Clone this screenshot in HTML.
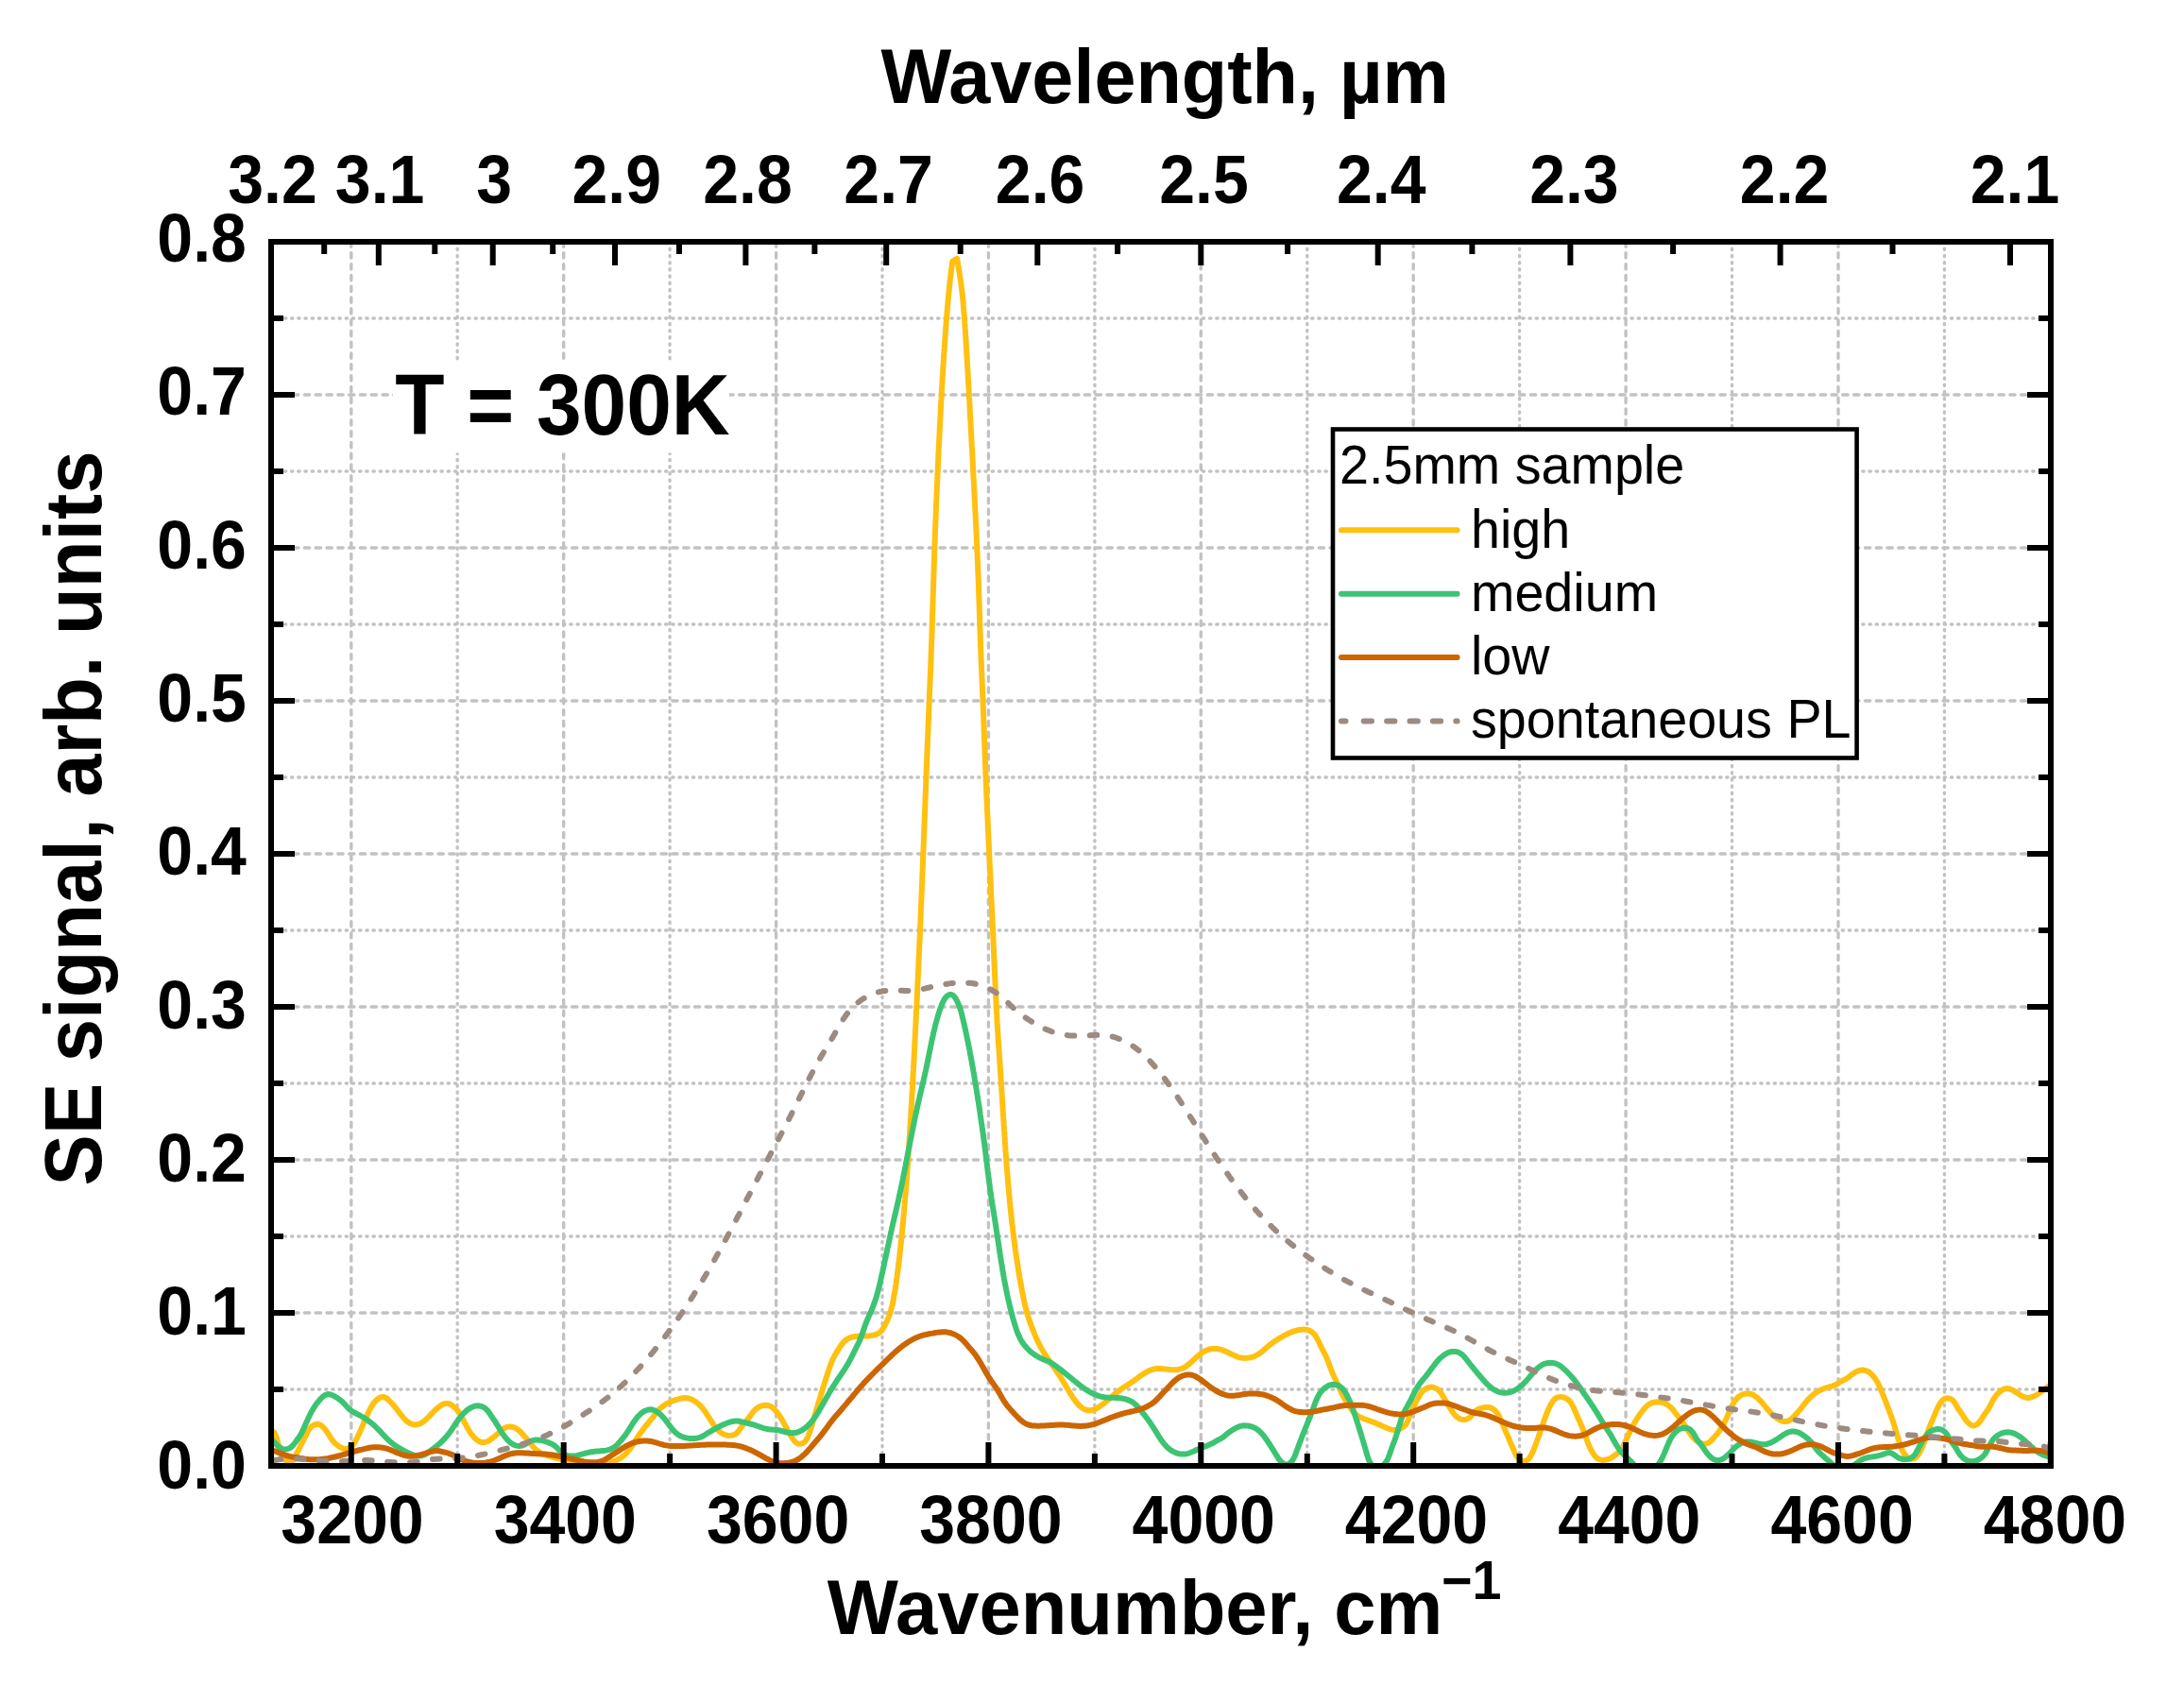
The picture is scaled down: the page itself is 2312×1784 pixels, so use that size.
<!DOCTYPE html><html><head><meta charset="utf-8"><title>SE signal</title>
<style>html,body{margin:0;padding:0;background:#fff}svg{display:block}text{font-family:"Liberation Sans",Arial,sans-serif;fill:#000}.b{font-weight:bold}</style></head><body>
<svg width="2312" height="1784" viewBox="0 0 2312 1784">
<rect width="2312" height="1784" fill="#fff"/>
<g stroke="#c2c2c2" stroke-width="3.4" stroke-linecap="round" fill="none">
<line x1="371.8" y1="256" x2="371.8" y2="1552" stroke-dasharray="5.3 6.5" stroke-dashoffset="0"/>
<line x1="596.7" y1="256" x2="596.7" y2="1552" stroke-dasharray="5.3 6.5" stroke-dashoffset="0"/>
<line x1="821.6" y1="256" x2="821.6" y2="1552" stroke-dasharray="5.3 6.5" stroke-dashoffset="0"/>
<line x1="1046.4" y1="256" x2="1046.4" y2="1552" stroke-dasharray="5.3 6.5" stroke-dashoffset="0"/>
<line x1="1271.3" y1="256" x2="1271.3" y2="1552" stroke-dasharray="5.3 6.5" stroke-dashoffset="0"/>
<line x1="1496.2" y1="256" x2="1496.2" y2="1552" stroke-dasharray="5.3 6.5" stroke-dashoffset="0"/>
<line x1="1721.1" y1="256" x2="1721.1" y2="1552" stroke-dasharray="5.3 6.5" stroke-dashoffset="0"/>
<line x1="1946.0" y1="256" x2="1946.0" y2="1552" stroke-dasharray="5.3 6.5" stroke-dashoffset="0"/>
<line x1="484.2" y1="256" x2="484.2" y2="1552" stroke-dasharray="1.3 5.9"/>
<line x1="709.1" y1="256" x2="709.1" y2="1552" stroke-dasharray="1.3 5.9"/>
<line x1="934.0" y1="256" x2="934.0" y2="1552" stroke-dasharray="1.3 5.9"/>
<line x1="1158.9" y1="256" x2="1158.9" y2="1552" stroke-dasharray="1.3 5.9"/>
<line x1="1383.8" y1="256" x2="1383.8" y2="1552" stroke-dasharray="1.3 5.9"/>
<line x1="1608.6" y1="256" x2="1608.6" y2="1552" stroke-dasharray="1.3 5.9"/>
<line x1="1833.5" y1="256" x2="1833.5" y2="1552" stroke-dasharray="1.3 5.9"/>
<line x1="2058.4" y1="256" x2="2058.4" y2="1552" stroke-dasharray="1.3 5.9"/>
<line x1="287" y1="1390.0" x2="2171" y2="1390.0" stroke-dasharray="5.3 6.5"/>
<line x1="287" y1="1228.0" x2="2171" y2="1228.0" stroke-dasharray="5.3 6.5"/>
<line x1="287" y1="1066.0" x2="2171" y2="1066.0" stroke-dasharray="5.3 6.5"/>
<line x1="287" y1="904.0" x2="2171" y2="904.0" stroke-dasharray="5.3 6.5"/>
<line x1="287" y1="742.0" x2="2171" y2="742.0" stroke-dasharray="5.3 6.5"/>
<line x1="287" y1="580.0" x2="2171" y2="580.0" stroke-dasharray="5.3 6.5"/>
<line x1="287" y1="418.0" x2="2171" y2="418.0" stroke-dasharray="5.3 6.5"/>
<line x1="287" y1="1471.0" x2="2171" y2="1471.0" stroke-dasharray="1.3 5.9"/>
<line x1="287" y1="1309.0" x2="2171" y2="1309.0" stroke-dasharray="1.3 5.9"/>
<line x1="287" y1="1147.0" x2="2171" y2="1147.0" stroke-dasharray="1.3 5.9"/>
<line x1="287" y1="985.0" x2="2171" y2="985.0" stroke-dasharray="1.3 5.9"/>
<line x1="287" y1="823.0" x2="2171" y2="823.0" stroke-dasharray="1.3 5.9"/>
<line x1="287" y1="661.0" x2="2171" y2="661.0" stroke-dasharray="1.3 5.9"/>
<line x1="287" y1="499.0" x2="2171" y2="499.0" stroke-dasharray="1.3 5.9"/>
<line x1="287" y1="337.0" x2="2171" y2="337.0" stroke-dasharray="1.3 5.9"/>
</g>
<defs><clipPath id="pc"><rect x="287" y="256" width="1884" height="1296"/></clipPath></defs>
<g clip-path="url(#pc)" fill="none" stroke-width="6" stroke-linejoin="round" stroke-linecap="round">
<path d="M290.0 1516.3 L291.0 1518.1 L291.9 1520.0 L292.6 1521.8 L293.2 1523.7 L293.8 1525.6 L294.2 1527.5 L294.7 1529.5 L295.1 1531.4 L295.6 1533.3 L296.1 1535.2 L296.7 1537.1 L297.5 1538.9 L298.3 1540.8 L299.4 1542.6 L300.7 1544.4 L302.2 1546.1 L303.8 1547.5 L305.5 1548.3 L307.1 1548.3 L308.6 1547.5 L310.0 1546.1 L311.3 1544.2 L312.5 1542.2 L313.5 1540.2 L314.5 1538.2 L315.4 1536.4 L316.3 1534.7 L317.1 1532.9 L317.9 1531.2 L318.8 1529.5 L319.7 1527.7 L320.6 1526.0 L321.5 1524.2 L322.4 1522.4 L323.3 1520.6 L324.2 1518.7 L325.1 1516.9 L326.0 1515.1 L327.1 1513.4 L328.4 1511.8 L329.8 1510.4 L331.5 1509.2 L333.4 1508.3 L335.4 1507.8 L337.3 1507.9 L339.1 1508.7 L340.7 1509.8 L342.3 1511.2 L343.7 1512.8 L344.9 1514.4 L346.1 1516.0 L347.2 1517.7 L348.3 1519.4 L349.3 1521.1 L350.4 1522.7 L351.5 1524.4 L352.7 1525.9 L354.0 1527.4 L355.5 1528.8 L357.0 1530.1 L358.7 1531.3 L360.5 1532.4 L362.4 1533.3 L364.3 1533.9 L366.2 1534.0 L368.1 1533.7 L369.9 1532.8 L371.6 1531.6 L373.1 1530.2 L374.4 1528.7 L375.5 1527.0 L376.5 1525.2 L377.5 1523.4 L378.4 1521.6 L379.2 1519.8 L380.1 1518.0 L380.9 1516.2 L381.7 1514.3 L382.5 1512.5 L383.3 1510.7 L384.1 1508.9 L384.9 1507.0 L385.7 1505.2 L386.5 1503.4 L387.3 1501.5 L388.1 1499.7 L388.9 1497.9 L389.7 1496.1 L390.6 1494.2 L391.5 1492.4 L392.4 1490.6 L393.4 1488.9 L394.5 1487.2 L395.6 1485.5 L396.9 1484.0 L398.4 1482.6 L399.9 1481.3 L401.7 1480.1 L403.5 1479.3 L405.4 1479.0 L407.2 1479.3 L408.9 1480.3 L410.6 1481.5 L412.1 1483.0 L413.6 1484.5 L415.0 1486.0 L416.3 1487.5 L417.6 1489.0 L418.9 1490.6 L420.1 1492.2 L421.3 1493.7 L422.5 1495.3 L423.7 1496.9 L424.9 1498.4 L426.2 1500.0 L427.5 1501.5 L428.8 1503.0 L430.3 1504.4 L431.9 1505.7 L433.7 1506.7 L435.6 1507.6 L437.5 1508.2 L439.5 1508.4 L441.4 1508.3 L443.3 1507.8 L445.1 1507.1 L446.8 1506.1 L448.5 1505.0 L450.1 1503.6 L451.7 1502.2 L453.1 1500.8 L454.6 1499.3 L455.9 1497.9 L457.3 1496.4 L458.6 1495.0 L460.0 1493.6 L461.4 1492.2 L462.9 1490.9 L464.5 1489.7 L466.1 1488.5 L467.9 1487.3 L469.7 1486.4 L471.7 1485.9 L473.6 1485.9 L475.5 1486.3 L477.4 1487.2 L479.1 1488.3 L480.7 1489.6 L482.2 1490.9 L483.6 1492.4 L484.9 1493.9 L486.0 1495.6 L487.1 1497.2 L488.1 1498.9 L489.1 1500.7 L490.0 1502.5 L491.0 1504.3 L491.9 1506.1 L492.8 1507.9 L493.7 1509.7 L494.7 1511.4 L495.7 1513.2 L496.7 1514.9 L497.8 1516.6 L498.9 1518.2 L500.1 1519.8 L501.4 1521.3 L502.8 1522.7 L504.3 1524.1 L506.0 1525.3 L507.7 1526.3 L509.6 1526.9 L511.6 1527.1 L513.6 1526.9 L515.6 1526.4 L517.3 1525.5 L519.0 1524.3 L520.6 1523.1 L522.2 1521.8 L523.8 1520.6 L525.3 1519.4 L526.9 1518.1 L528.4 1516.8 L529.9 1515.4 L531.5 1514.0 L533.0 1512.7 L534.7 1511.7 L536.5 1510.9 L538.5 1510.6 L540.4 1510.5 L542.4 1510.8 L544.4 1511.4 L546.2 1512.3 L547.9 1513.4 L549.5 1514.6 L551.0 1516.0 L552.4 1517.5 L553.7 1519.0 L555.0 1520.5 L556.3 1522.0 L557.6 1523.5 L558.8 1525.0 L560.1 1526.6 L561.4 1528.2 L562.7 1529.7 L564.0 1531.3 L565.4 1532.7 L566.8 1534.2 L568.3 1535.5 L569.9 1536.7 L571.5 1537.8 L573.2 1538.7 L575.0 1539.6 L576.9 1540.3 L578.7 1541.0 L580.7 1541.6 L582.6 1542.2 L584.6 1542.7 L586.6 1543.2 L588.5 1543.7 L590.5 1544.2 L592.4 1544.7 L594.4 1545.1 L596.3 1545.6 L598.3 1546.0 L600.2 1546.4 L602.2 1546.8 L604.1 1547.2 L606.1 1547.6 L608.0 1547.9 L610.0 1548.2 L612.0 1548.5 L614.0 1548.7 L615.9 1548.9 L618.0 1549.1 L620.0 1549.3 L622.0 1549.4 L624.0 1549.5 L626.0 1549.6 L628.0 1549.7 L630.0 1549.8 L632.0 1549.8 L634.1 1549.8 L636.1 1549.8 L638.1 1549.7 L640.0 1549.5 L642.0 1549.2 L644.0 1548.9 L645.9 1548.4 L647.9 1547.9 L649.8 1547.2 L651.6 1546.5 L653.5 1545.6 L655.2 1544.6 L657.0 1543.6 L658.6 1542.4 L660.2 1541.2 L661.7 1539.9 L663.1 1538.5 L664.5 1537.0 L665.7 1535.5 L666.9 1533.9 L668.1 1532.3 L669.2 1530.6 L670.3 1528.9 L671.4 1527.2 L672.5 1525.5 L673.5 1523.8 L674.6 1522.1 L675.7 1520.5 L676.9 1518.8 L678.0 1517.2 L679.2 1515.6 L680.4 1514.0 L681.6 1512.4 L682.8 1510.8 L684.0 1509.2 L685.3 1507.7 L686.5 1506.1 L687.8 1504.6 L689.1 1503.0 L690.3 1501.5 L691.6 1499.9 L692.8 1498.3 L694.0 1496.7 L695.3 1495.1 L696.5 1493.6 L697.9 1492.1 L699.4 1490.8 L700.9 1489.5 L702.5 1488.3 L704.2 1487.2 L705.9 1486.1 L707.7 1485.2 L709.5 1484.3 L711.4 1483.5 L713.2 1482.8 L715.1 1482.2 L717.0 1481.6 L719.0 1481.1 L720.9 1480.6 L722.9 1480.2 L724.9 1480.0 L726.9 1480.1 L728.8 1480.5 L730.7 1481.1 L732.6 1481.8 L734.4 1482.8 L736.1 1483.9 L737.8 1485.1 L739.3 1486.4 L740.8 1487.8 L742.2 1489.2 L743.5 1490.7 L744.7 1492.2 L745.9 1493.8 L747.0 1495.4 L748.1 1497.1 L749.2 1498.8 L750.3 1500.5 L751.3 1502.1 L752.4 1503.9 L753.5 1505.5 L754.6 1507.2 L755.8 1508.9 L757.0 1510.6 L758.3 1512.2 L759.6 1513.7 L761.0 1515.1 L762.6 1516.4 L764.2 1517.5 L765.9 1518.5 L767.8 1519.2 L769.7 1519.7 L771.8 1519.9 L773.8 1519.8 L775.8 1519.5 L777.6 1518.8 L779.3 1517.8 L780.7 1516.5 L782.0 1514.9 L783.2 1513.2 L784.4 1511.4 L785.5 1509.8 L786.8 1508.2 L788.1 1506.7 L789.4 1505.2 L790.6 1503.7 L791.9 1502.2 L793.1 1500.5 L794.3 1498.9 L795.5 1497.2 L796.7 1495.6 L798.0 1494.0 L799.4 1492.6 L800.9 1491.3 L802.5 1490.1 L804.2 1489.2 L806.1 1488.5 L808.1 1488.0 L810.1 1487.8 L812.1 1487.9 L814.0 1488.3 L815.8 1489.0 L817.5 1490.1 L819.1 1491.4 L820.5 1492.9 L821.9 1494.5 L823.1 1496.1 L824.3 1497.8 L825.5 1499.4 L826.5 1501.1 L827.6 1502.8 L828.6 1504.5 L829.5 1506.2 L830.5 1507.9 L831.4 1509.7 L832.3 1511.4 L833.2 1513.2 L834.2 1514.9 L835.1 1516.7 L836.1 1518.4 L837.2 1520.2 L838.3 1521.9 L839.5 1523.7 L840.8 1525.4 L842.1 1526.9 L843.7 1528.0 L845.5 1528.7 L847.4 1528.7 L849.4 1528.2 L851.2 1527.2 L852.6 1525.8 L853.8 1524.1 L854.8 1522.3 L855.6 1520.4 L856.3 1518.5 L857.0 1516.6 L857.7 1514.7 L858.3 1512.8 L858.9 1510.8 L859.5 1508.9 L860.0 1507.0 L860.6 1505.1 L861.2 1503.2 L861.7 1501.3 L862.3 1499.4 L862.8 1497.5 L863.4 1495.6 L864.0 1493.7 L864.5 1491.7 L865.1 1489.8 L865.7 1487.9 L866.3 1486.0 L866.8 1484.1 L867.4 1482.2 L868.0 1480.2 L868.6 1478.3 L869.1 1476.4 L869.7 1474.5 L870.3 1472.6 L870.9 1470.7 L871.5 1468.7 L872.1 1466.8 L872.7 1464.9 L873.3 1463.0 L873.9 1461.1 L874.5 1459.2 L875.1 1457.3 L875.7 1455.4 L876.4 1453.4 L877.0 1451.5 L877.6 1449.6 L878.3 1447.7 L878.9 1445.8 L879.6 1444.0 L880.3 1442.1 L881.1 1440.3 L881.9 1438.5 L882.8 1436.7 L883.7 1435.0 L884.7 1433.3 L885.7 1431.5 L886.8 1429.8 L887.9 1428.1 L889.0 1426.4 L890.1 1424.6 L891.3 1423.0 L892.6 1421.4 L893.9 1419.9 L895.4 1418.7 L897.0 1417.6 L898.8 1416.7 L900.6 1416.0 L902.6 1415.5 L904.6 1415.1 L906.6 1414.9 L908.6 1414.7 L910.7 1414.6 L912.7 1414.6 L914.7 1414.5 L916.7 1414.5 L918.7 1414.4 L920.6 1414.3 L922.6 1414.0 L924.6 1413.6 L926.5 1413.1 L928.4 1412.4 L930.2 1411.5 L931.8 1410.3 L933.2 1408.8 L934.3 1407.2 L935.4 1405.5 L936.4 1403.7 L937.3 1401.9 L938.2 1400.1 L939.1 1398.3 L939.9 1396.5 L940.7 1394.6 L941.4 1392.8 L942.0 1390.9 L942.7 1389.0 L943.2 1387.1 L943.7 1385.1 L944.2 1383.2 L944.7 1381.2 L945.1 1379.3 L945.5 1377.3 L945.9 1375.4 L946.2 1373.4 L946.6 1371.4 L946.9 1369.5 L947.2 1367.5 L947.6 1365.5 L947.9 1363.5 L948.2 1361.5 L948.5 1359.6 L948.7 1357.6 L949.0 1355.6 L949.3 1353.6 L949.6 1351.6 L949.8 1349.6 L950.1 1347.7 L950.4 1345.7 L950.6 1343.7 L950.9 1341.7 L951.1 1339.7 L951.4 1337.7 L951.6 1335.7 L951.8 1333.8 L952.1 1331.8 L952.3 1329.8 L952.5 1327.8 L952.7 1325.8 L953.0 1323.8 L953.2 1321.8 L953.4 1319.8 L953.6 1317.8 L953.8 1315.8 L954.0 1313.9 L954.2 1311.9 L954.4 1309.9 L954.6 1307.9 L954.8 1305.9 L955.0 1303.9 L955.2 1301.9 L955.4 1299.9 L955.6 1297.9 L955.8 1295.9 L956.0 1293.9 L956.2 1291.9 L956.3 1290.0 L956.5 1288.0 L956.7 1286.0 L956.9 1284.0 L957.1 1282.0 L957.2 1280.0 L957.4 1278.0 L957.6 1276.0 L957.7 1274.0 L957.9 1272.0 L958.1 1270.0 L958.2 1268.0 L958.4 1266.0 L958.6 1264.0 L958.7 1262.0 L958.9 1260.0 L959.0 1258.0 L959.2 1256.1 L959.4 1254.1 L959.5 1252.1 L959.7 1250.1 L959.8 1248.1 L960.0 1246.1 L960.1 1244.1 L960.3 1242.1 L960.4 1240.1 L960.5 1238.1 L960.7 1236.1 L960.8 1234.1 L961.0 1232.1 L961.1 1230.1 L961.2 1228.1 L961.4 1226.1 L961.5 1224.1 L961.7 1222.1 L961.8 1220.1 L961.9 1218.1 L962.1 1216.1 L962.2 1214.1 L962.3 1212.1 L962.4 1210.1 L962.6 1208.1 L962.7 1206.1 L962.8 1204.1 L963.0 1202.1 L963.1 1200.1 L963.2 1198.1 L963.3 1196.1 L963.4 1194.1 L963.6 1192.1 L963.7 1190.1 L963.8 1188.1 L963.9 1186.1 L964.0 1184.2 L964.2 1182.2 L964.3 1180.2 L964.4 1178.2 L964.5 1176.2 L964.6 1174.2 L964.7 1172.2 L964.9 1170.2 L965.0 1168.2 L965.1 1166.2 L965.2 1164.2 L965.3 1162.2 L965.4 1160.2 L965.5 1158.2 L965.6 1156.2 L965.8 1154.2 L965.9 1152.2 L966.0 1150.2 L966.1 1148.2 L966.2 1146.2 L966.3 1144.2 L966.4 1142.2 L966.5 1140.2 L966.6 1138.2 L966.7 1136.2 L966.8 1134.2 L967.0 1132.2 L967.1 1130.2 L967.2 1128.2 L967.3 1126.2 L967.4 1124.2 L967.5 1122.2 L967.6 1120.2 L967.7 1118.2 L967.8 1116.2 L967.9 1114.2 L968.0 1112.2 L968.1 1110.2 L968.2 1108.2 L968.3 1106.2 L968.4 1104.2 L968.5 1102.2 L968.6 1100.2 L968.7 1098.2 L968.8 1096.2 L968.9 1094.2 L969.0 1092.2 L969.1 1090.2 L969.2 1088.2 L969.3 1086.2 L969.4 1084.2 L969.5 1082.2 L969.6 1080.2 L969.7 1078.2 L969.8 1076.2 L969.9 1074.2 L970.0 1072.2 L970.1 1070.2 L970.2 1068.2 L970.3 1066.2 L970.4 1064.2 L970.5 1062.2 L970.6 1060.2 L970.7 1058.2 L970.8 1056.2 L970.9 1054.2 L971.0 1052.2 L971.1 1050.2 L971.2 1048.2 L971.2 1046.2 L971.3 1044.2 L971.4 1042.2 L971.5 1040.2 L971.6 1038.2 L971.7 1036.2 L971.8 1034.2 L971.9 1032.2 L972.0 1030.2 L972.1 1028.2 L972.2 1026.2 L972.3 1024.2 L972.4 1022.2 L972.4 1020.2 L972.5 1018.2 L972.6 1016.2 L972.7 1014.2 L972.8 1012.2 L972.9 1010.2 L973.0 1008.2 L973.1 1006.2 L973.2 1004.2 L973.2 1002.2 L973.3 1000.2 L973.4 998.2 L973.5 996.2 L973.6 994.2 L973.7 992.2 L973.8 990.2 L973.9 988.2 L973.9 986.2 L974.0 984.2 L974.1 982.2 L974.2 980.2 L974.3 978.2 L974.4 976.2 L974.5 974.2 L974.5 972.2 L974.6 970.2 L974.7 968.2 L974.8 966.2 L974.9 964.2 L975.0 962.2 L975.0 960.2 L975.1 958.2 L975.2 956.2 L975.3 954.2 L975.4 952.2 L975.5 950.2 L975.5 948.2 L975.6 946.2 L975.7 944.2 L975.8 942.2 L975.9 940.2 L975.9 938.2 L976.0 936.2 L976.1 934.2 L976.2 932.2 L976.3 930.2 L976.3 928.2 L976.4 926.2 L976.5 924.2 L976.6 922.2 L976.7 920.2 L976.8 918.2 L976.8 916.2 L976.9 914.2 L977.0 912.2 L977.1 910.2 L977.1 908.2 L977.2 906.2 L977.3 904.2 L977.4 902.2 L977.5 900.2 L977.5 898.2 L977.6 896.2 L977.7 894.2 L977.8 892.2 L977.9 890.2 L977.9 888.2 L978.0 886.2 L978.1 884.2 L978.2 882.2 L978.2 880.2 L978.3 878.2 L978.4 876.2 L978.5 874.2 L978.6 872.2 L978.6 870.2 L978.7 868.2 L978.8 866.2 L978.9 864.2 L978.9 862.2 L979.0 860.2 L979.1 858.2 L979.2 856.2 L979.3 854.2 L979.3 852.2 L979.4 850.2 L979.5 848.2 L979.6 846.2 L979.6 844.2 L979.7 842.2 L979.8 840.2 L979.9 838.2 L980.0 836.2 L980.0 834.2 L980.1 832.2 L980.2 830.2 L980.3 828.2 L980.3 826.2 L980.4 824.2 L980.5 822.2 L980.6 820.2 L980.7 818.2 L980.7 816.2 L980.8 814.2 L980.9 812.2 L981.0 810.2 L981.0 808.2 L981.1 806.2 L981.2 804.2 L981.3 802.2 L981.4 800.2 L981.4 798.2 L981.5 796.2 L981.6 794.2 L981.7 792.2 L981.8 790.2 L981.8 788.2 L981.9 786.2 L982.0 784.2 L982.1 782.2 L982.1 780.2 L982.2 778.2 L982.3 776.2 L982.4 774.2 L982.5 772.2 L982.5 770.2 L982.6 768.2 L982.7 766.2 L982.8 764.2 L982.9 762.2 L983.0 760.2 L983.0 758.2 L983.1 756.2 L983.2 754.2 L983.3 752.2 L983.4 750.2 L983.4 748.2 L983.5 746.2 L983.6 744.2 L983.7 742.2 L983.8 740.2 L983.9 738.2 L983.9 736.2 L984.0 734.2 L984.1 732.2 L984.2 730.2 L984.3 728.2 L984.4 726.2 L984.4 724.2 L984.5 722.2 L984.6 720.2 L984.7 718.2 L984.8 716.2 L984.9 714.2 L984.9 712.2 L985.0 710.2 L985.1 708.2 L985.2 706.2 L985.3 704.2 L985.3 702.2 L985.4 700.2 L985.5 698.2 L985.6 696.2 L985.6 694.2 L985.7 692.2 L985.8 690.2 L985.9 688.2 L985.9 686.2 L986.0 684.2 L986.1 682.2 L986.2 680.2 L986.2 678.2 L986.3 676.2 L986.4 674.2 L986.4 672.2 L986.5 670.2 L986.6 668.2 L986.6 666.2 L986.7 664.2 L986.8 662.2 L986.8 660.2 L986.9 658.2 L987.0 656.2 L987.0 654.2 L987.1 652.2 L987.2 650.2 L987.2 648.2 L987.3 646.2 L987.3 644.2 L987.4 642.2 L987.5 640.2 L987.5 638.2 L987.6 636.2 L987.6 634.2 L987.7 632.2 L987.8 630.2 L987.8 628.2 L987.9 626.2 L988.0 624.2 L988.0 622.2 L988.1 620.2 L988.1 618.2 L988.2 616.2 L988.3 614.2 L988.3 612.2 L988.4 610.2 L988.4 608.2 L988.5 606.2 L988.6 604.2 L988.6 602.2 L988.7 600.2 L988.8 598.2 L988.8 596.2 L988.9 594.2 L989.0 592.2 L989.0 590.2 L989.1 588.2 L989.2 586.2 L989.2 584.2 L989.3 582.2 L989.4 580.2 L989.4 578.2 L989.5 576.2 L989.6 574.2 L989.7 572.2 L989.7 570.2 L989.8 568.2 L989.9 566.2 L989.9 564.2 L990.0 562.2 L990.1 560.2 L990.2 558.2 L990.3 556.2 L990.3 554.2 L990.4 552.2 L990.5 550.2 L990.6 548.2 L990.6 546.2 L990.7 544.2 L990.8 542.2 L990.9 540.2 L991.0 538.2 L991.0 536.2 L991.1 534.2 L991.2 532.2 L991.3 530.2 L991.4 528.2 L991.5 526.2 L991.6 524.2 L991.6 522.2 L991.7 520.2 L991.8 518.2 L991.9 516.2 L992.0 514.2 L992.1 512.2 L992.2 510.2 L992.3 508.2 L992.3 506.2 L992.4 504.2 L992.5 502.2 L992.6 500.2 L992.7 498.2 L992.8 496.2 L992.9 494.2 L993.0 492.2 L993.1 490.2 L993.2 488.2 L993.3 486.2 L993.3 484.2 L993.4 482.2 L993.5 480.2 L993.6 478.2 L993.7 476.2 L993.8 474.2 L993.9 472.2 L994.0 470.2 L994.1 468.2 L994.2 466.2 L994.3 464.2 L994.4 462.2 L994.5 460.2 L994.6 458.2 L994.7 456.2 L994.8 454.2 L994.9 452.2 L995.0 450.2 L995.1 448.2 L995.2 446.2 L995.3 444.2 L995.4 442.2 L995.5 440.2 L995.6 438.2 L995.7 436.2 L995.8 434.2 L995.9 432.2 L996.0 430.2 L996.1 428.2 L996.2 426.2 L996.3 424.2 L996.5 422.2 L996.6 420.2 L996.7 418.2 L996.8 416.2 L996.9 414.2 L997.0 412.2 L997.1 410.2 L997.2 408.2 L997.4 406.2 L997.5 404.2 L997.6 402.2 L997.7 400.2 L997.8 398.2 L998.0 396.2 L998.1 394.2 L998.2 392.2 L998.3 390.2 L998.4 388.2 L998.6 386.2 L998.7 384.2 L998.8 382.2 L999.0 380.2 L999.1 378.2 L999.2 376.2 L999.3 374.2 L999.5 372.2 L999.6 370.2 L999.8 368.2 L999.9 366.2 L1000.0 364.2 L1000.2 362.3 L1000.3 360.3 L1000.4 358.3 L1000.6 356.3 L1000.7 354.3 L1000.9 352.3 L1001.0 350.3 L1001.2 348.3 L1001.3 346.3 L1001.5 344.3 L1001.6 342.3 L1001.8 340.3 L1001.9 338.3 L1002.1 336.3 L1002.3 334.3 L1002.4 332.3 L1002.6 330.3 L1002.8 328.3 L1002.9 326.3 L1003.1 324.3 L1003.3 322.3 L1003.4 320.3 L1003.6 318.4 L1003.8 316.4 L1004.0 314.4 L1004.2 312.4 L1004.4 310.4 L1004.6 308.4 L1004.8 306.4 L1005.0 304.4 L1005.2 302.4 L1005.4 300.4 L1005.6 298.4 L1005.8 296.4 L1006.1 294.5 L1006.3 292.5 L1006.5 290.5 L1006.8 288.5 L1007.0 286.5 L1007.3 284.5 L1007.5 282.5 L1007.8 280.5 L1008.0 278.6 L1008.3 276.6 L1013.0 273.7 L1013.4 275.7 L1013.7 277.7 L1014.1 279.6 L1014.4 281.6 L1014.8 283.6 L1015.1 285.6 L1015.4 287.5 L1015.7 289.5 L1016.0 291.5 L1016.3 293.5 L1016.6 295.4 L1016.9 297.4 L1017.2 299.4 L1017.5 301.4 L1017.7 303.4 L1018.0 305.3 L1018.2 307.3 L1018.4 309.3 L1018.7 311.3 L1018.9 313.3 L1019.1 315.3 L1019.3 317.3 L1019.5 319.2 L1019.7 321.2 L1019.8 323.2 L1020.0 325.2 L1020.2 327.2 L1020.3 329.2 L1020.5 331.2 L1020.7 333.2 L1020.8 335.2 L1021.0 337.2 L1021.1 339.2 L1021.2 341.2 L1021.4 343.2 L1021.5 345.2 L1021.6 347.2 L1021.8 349.2 L1021.9 351.2 L1022.0 353.1 L1022.2 355.1 L1022.3 357.1 L1022.4 359.1 L1022.5 361.1 L1022.7 363.1 L1022.8 365.1 L1022.9 367.1 L1023.0 369.1 L1023.1 371.1 L1023.3 373.1 L1023.4 375.1 L1023.5 377.1 L1023.6 379.1 L1023.7 381.1 L1023.9 383.1 L1024.0 385.1 L1024.1 387.1 L1024.2 389.1 L1024.3 391.1 L1024.5 393.1 L1024.6 395.1 L1024.7 397.1 L1024.8 399.1 L1024.9 401.1 L1025.0 403.1 L1025.1 405.1 L1025.3 407.1 L1025.4 409.1 L1025.5 411.1 L1025.6 413.1 L1025.7 415.1 L1025.8 417.1 L1025.9 419.1 L1026.0 421.0 L1026.2 423.0 L1026.3 425.0 L1026.4 427.0 L1026.5 429.0 L1026.6 431.0 L1026.7 433.0 L1026.8 435.0 L1026.9 437.0 L1027.0 439.0 L1027.1 441.0 L1027.2 443.0 L1027.4 445.0 L1027.5 447.0 L1027.6 449.0 L1027.7 451.0 L1027.8 453.0 L1027.9 455.0 L1028.0 457.0 L1028.1 459.0 L1028.2 461.0 L1028.3 463.0 L1028.4 465.0 L1028.5 467.0 L1028.6 469.0 L1028.7 471.0 L1028.8 473.0 L1029.0 475.0 L1029.1 477.0 L1029.2 479.0 L1029.3 481.0 L1029.4 483.0 L1029.5 485.0 L1029.6 487.0 L1029.7 489.0 L1029.8 490.9 L1029.9 492.9 L1030.0 494.9 L1030.1 496.9 L1030.2 498.9 L1030.3 500.9 L1030.4 502.9 L1030.5 504.9 L1030.6 506.9 L1030.8 508.9 L1030.9 510.9 L1031.0 512.9 L1031.1 514.9 L1031.2 516.9 L1031.3 518.9 L1031.4 520.9 L1031.5 522.9 L1031.6 524.9 L1031.7 526.9 L1031.8 528.9 L1031.9 530.9 L1032.0 532.9 L1032.1 534.9 L1032.2 536.9 L1032.3 538.9 L1032.4 540.9 L1032.5 542.9 L1032.6 544.9 L1032.7 546.9 L1032.8 548.9 L1032.9 550.9 L1033.0 552.9 L1033.1 554.9 L1033.2 556.9 L1033.3 558.9 L1033.4 560.9 L1033.5 562.9 L1033.6 564.9 L1033.7 566.9 L1033.8 568.9 L1033.9 570.9 L1033.9 572.9 L1034.0 574.9 L1034.1 576.9 L1034.2 578.9 L1034.3 580.9 L1034.4 582.8 L1034.5 584.8 L1034.6 586.8 L1034.7 588.8 L1034.8 590.8 L1034.8 592.8 L1034.9 594.8 L1035.0 596.8 L1035.1 598.8 L1035.2 600.8 L1035.3 602.8 L1035.3 604.8 L1035.4 606.8 L1035.5 608.8 L1035.6 610.8 L1035.7 612.8 L1035.7 614.8 L1035.8 616.8 L1035.9 618.8 L1036.0 620.8 L1036.0 622.8 L1036.1 624.8 L1036.2 626.8 L1036.2 628.8 L1036.3 630.8 L1036.4 632.8 L1036.4 634.8 L1036.5 636.8 L1036.6 638.8 L1036.6 640.8 L1036.7 642.8 L1036.8 644.8 L1036.8 646.8 L1036.9 648.8 L1037.0 650.8 L1037.0 652.8 L1037.1 654.8 L1037.2 656.8 L1037.2 658.8 L1037.3 660.8 L1037.3 662.8 L1037.4 664.8 L1037.5 666.8 L1037.5 668.8 L1037.6 670.8 L1037.7 672.8 L1037.8 674.8 L1037.8 676.8 L1037.9 678.8 L1038.0 680.8 L1038.0 682.8 L1038.1 684.8 L1038.2 686.8 L1038.3 688.8 L1038.3 690.8 L1038.4 692.8 L1038.5 694.8 L1038.6 696.8 L1038.7 698.8 L1038.7 700.8 L1038.8 702.8 L1038.9 704.8 L1039.0 706.8 L1039.1 708.8 L1039.2 710.8 L1039.3 712.8 L1039.3 714.8 L1039.4 716.8 L1039.5 718.8 L1039.6 720.8 L1039.7 722.8 L1039.8 724.8 L1039.9 726.8 L1040.0 728.8 L1040.0 730.8 L1040.1 732.8 L1040.2 734.8 L1040.3 736.8 L1040.4 738.7 L1040.5 740.7 L1040.5 742.7 L1040.6 744.7 L1040.7 746.7 L1040.8 748.7 L1040.9 750.7 L1040.9 752.7 L1041.0 754.7 L1041.1 756.7 L1041.2 758.7 L1041.2 760.7 L1041.3 762.7 L1041.4 764.7 L1041.5 766.7 L1041.5 768.7 L1041.6 770.7 L1041.7 772.7 L1041.8 774.7 L1041.8 776.7 L1041.9 778.7 L1042.0 780.7 L1042.1 782.7 L1042.1 784.7 L1042.2 786.7 L1042.3 788.7 L1042.3 790.7 L1042.4 792.7 L1042.5 794.7 L1042.6 796.7 L1042.6 798.7 L1042.7 800.7 L1042.8 802.7 L1042.9 804.7 L1042.9 806.7 L1043.0 808.7 L1043.1 810.7 L1043.2 812.7 L1043.3 814.7 L1043.3 816.7 L1043.4 818.7 L1043.5 820.7 L1043.6 822.7 L1043.7 824.7 L1043.7 826.7 L1043.8 828.7 L1043.9 830.7 L1044.0 832.7 L1044.1 834.7 L1044.2 836.7 L1044.3 838.7 L1044.3 840.7 L1044.4 842.7 L1044.5 844.7 L1044.6 846.7 L1044.7 848.7 L1044.8 850.7 L1044.9 852.7 L1044.9 854.7 L1045.0 856.7 L1045.1 858.7 L1045.2 860.7 L1045.3 862.7 L1045.4 864.7 L1045.5 866.7 L1045.6 868.7 L1045.7 870.7 L1045.8 872.7 L1045.8 874.7 L1045.9 876.7 L1046.0 878.7 L1046.1 880.7 L1046.2 882.7 L1046.3 884.6 L1046.4 886.6 L1046.5 888.6 L1046.6 890.6 L1046.7 892.6 L1046.8 894.6 L1046.9 896.6 L1047.0 898.6 L1047.1 900.6 L1047.2 902.6 L1047.2 904.6 L1047.3 906.6 L1047.4 908.6 L1047.5 910.6 L1047.6 912.6 L1047.7 914.6 L1047.8 916.6 L1047.9 918.6 L1048.0 920.6 L1048.1 922.6 L1048.2 924.6 L1048.3 926.6 L1048.4 928.6 L1048.5 930.6 L1048.6 932.6 L1048.7 934.6 L1048.8 936.6 L1048.9 938.6 L1049.0 940.6 L1049.0 942.6 L1049.1 944.6 L1049.2 946.6 L1049.3 948.6 L1049.4 950.6 L1049.5 952.6 L1049.6 954.6 L1049.7 956.6 L1049.8 958.6 L1049.9 960.6 L1050.0 962.6 L1050.1 964.6 L1050.2 966.6 L1050.3 968.6 L1050.4 970.6 L1050.4 972.6 L1050.5 974.6 L1050.6 976.6 L1050.7 978.6 L1050.8 980.6 L1050.9 982.6 L1051.0 984.5 L1051.1 986.5 L1051.2 988.5 L1051.3 990.5 L1051.4 992.5 L1051.4 994.5 L1051.5 996.5 L1051.6 998.5 L1051.7 1000.5 L1051.8 1002.5 L1051.9 1004.5 L1052.0 1006.5 L1052.1 1008.5 L1052.2 1010.5 L1052.2 1012.5 L1052.3 1014.5 L1052.4 1016.5 L1052.5 1018.5 L1052.6 1020.5 L1052.7 1022.5 L1052.8 1024.5 L1052.9 1026.5 L1052.9 1028.5 L1053.0 1030.5 L1053.1 1032.5 L1053.2 1034.5 L1053.3 1036.5 L1053.4 1038.5 L1053.5 1040.5 L1053.6 1042.5 L1053.7 1044.5 L1053.8 1046.5 L1053.9 1048.5 L1054.0 1050.5 L1054.1 1052.5 L1054.2 1054.5 L1054.3 1056.5 L1054.3 1058.5 L1054.5 1060.5 L1054.6 1062.5 L1054.7 1064.5 L1054.8 1066.5 L1054.9 1068.5 L1055.0 1070.5 L1055.1 1072.5 L1055.2 1074.5 L1055.3 1076.5 L1055.4 1078.5 L1055.5 1080.5 L1055.6 1082.5 L1055.8 1084.5 L1055.9 1086.5 L1056.0 1088.4 L1056.1 1090.4 L1056.2 1092.4 L1056.4 1094.4 L1056.5 1096.4 L1056.6 1098.4 L1056.7 1100.4 L1056.9 1102.4 L1057.0 1104.4 L1057.1 1106.4 L1057.3 1108.4 L1057.4 1110.4 L1057.5 1112.4 L1057.7 1114.4 L1057.8 1116.4 L1057.9 1118.4 L1058.1 1120.4 L1058.2 1122.4 L1058.3 1124.4 L1058.5 1126.4 L1058.6 1128.4 L1058.7 1130.3 L1058.9 1132.3 L1059.0 1134.3 L1059.1 1136.3 L1059.3 1138.3 L1059.4 1140.3 L1059.5 1142.3 L1059.7 1144.3 L1059.8 1146.3 L1059.9 1148.3 L1060.1 1150.3 L1060.2 1152.3 L1060.3 1154.3 L1060.5 1156.3 L1060.6 1158.3 L1060.7 1160.3 L1060.8 1162.3 L1061.0 1164.3 L1061.1 1166.3 L1061.2 1168.3 L1061.4 1170.3 L1061.5 1172.3 L1061.6 1174.3 L1061.7 1176.3 L1061.9 1178.3 L1062.0 1180.2 L1062.1 1182.2 L1062.3 1184.2 L1062.4 1186.2 L1062.5 1188.2 L1062.6 1190.2 L1062.8 1192.2 L1062.9 1194.2 L1063.0 1196.2 L1063.2 1198.2 L1063.3 1200.2 L1063.4 1202.2 L1063.6 1204.2 L1063.7 1206.2 L1063.8 1208.2 L1064.0 1210.2 L1064.1 1212.2 L1064.3 1214.2 L1064.4 1216.2 L1064.5 1218.2 L1064.7 1220.2 L1064.8 1222.2 L1065.0 1224.2 L1065.1 1226.2 L1065.3 1228.2 L1065.4 1230.2 L1065.6 1232.2 L1065.7 1234.2 L1065.9 1236.1 L1066.0 1238.1 L1066.2 1240.1 L1066.3 1242.1 L1066.5 1244.1 L1066.7 1246.1 L1066.8 1248.1 L1067.0 1250.1 L1067.1 1252.1 L1067.3 1254.1 L1067.5 1256.1 L1067.7 1258.1 L1067.8 1260.1 L1068.0 1262.1 L1068.2 1264.1 L1068.4 1266.0 L1068.6 1268.0 L1068.8 1270.0 L1068.9 1272.0 L1069.1 1274.0 L1069.3 1276.0 L1069.5 1278.0 L1069.7 1280.0 L1069.9 1282.0 L1070.1 1284.0 L1070.4 1285.9 L1070.6 1287.9 L1070.8 1289.9 L1071.0 1291.9 L1071.2 1293.9 L1071.4 1295.9 L1071.7 1297.9 L1071.9 1299.9 L1072.1 1301.8 L1072.4 1303.8 L1072.6 1305.8 L1072.9 1307.8 L1073.1 1309.8 L1073.4 1311.8 L1073.6 1313.7 L1073.9 1315.7 L1074.1 1317.7 L1074.4 1319.7 L1074.7 1321.7 L1074.9 1323.6 L1075.2 1325.6 L1075.5 1327.6 L1075.8 1329.6 L1076.1 1331.6 L1076.4 1333.5 L1076.7 1335.5 L1077.0 1337.5 L1077.3 1339.5 L1077.6 1341.4 L1077.9 1343.4 L1078.2 1345.4 L1078.5 1347.4 L1078.9 1349.3 L1079.2 1351.3 L1079.5 1353.3 L1079.9 1355.3 L1080.2 1357.2 L1080.6 1359.2 L1080.9 1361.2 L1081.3 1363.1 L1081.7 1365.1 L1082.0 1367.1 L1082.4 1369.0 L1082.8 1371.0 L1083.2 1373.0 L1083.6 1374.9 L1084.0 1376.9 L1084.4 1378.9 L1084.8 1380.8 L1085.3 1382.8 L1085.8 1384.7 L1086.3 1386.6 L1086.8 1388.6 L1087.3 1390.5 L1087.9 1392.4 L1088.5 1394.3 L1089.1 1396.2 L1089.7 1398.1 L1090.4 1400.0 L1091.1 1401.9 L1091.8 1403.7 L1092.5 1405.6 L1093.2 1407.5 L1093.9 1409.3 L1094.7 1411.2 L1095.4 1413.1 L1096.2 1414.9 L1097.0 1416.7 L1097.8 1418.6 L1098.7 1420.4 L1099.6 1422.2 L1100.5 1424.0 L1101.4 1425.7 L1102.3 1427.5 L1103.3 1429.2 L1104.4 1430.9 L1105.4 1432.6 L1106.5 1434.3 L1107.6 1436.0 L1108.7 1437.6 L1109.8 1439.3 L1111.0 1440.9 L1112.1 1442.6 L1113.3 1444.2 L1114.4 1445.8 L1115.6 1447.5 L1116.7 1449.2 L1117.8 1450.8 L1118.9 1452.5 L1120.1 1454.2 L1121.2 1455.8 L1122.2 1457.5 L1123.3 1459.2 L1124.4 1460.9 L1125.4 1462.6 L1126.5 1464.3 L1127.5 1466.0 L1128.5 1467.7 L1129.5 1469.4 L1130.5 1471.1 L1131.5 1472.8 L1132.6 1474.5 L1133.6 1476.2 L1134.7 1477.9 L1135.8 1479.6 L1136.9 1481.3 L1138.1 1482.9 L1139.4 1484.6 L1140.6 1486.1 L1142.0 1487.7 L1143.5 1489.0 L1145.0 1490.3 L1146.6 1491.4 L1148.4 1492.2 L1150.3 1492.8 L1152.2 1493.2 L1154.3 1493.3 L1156.3 1493.0 L1158.2 1492.4 L1160.1 1491.6 L1161.8 1490.6 L1163.5 1489.5 L1165.2 1488.3 L1166.8 1487.2 L1168.4 1486.0 L1170.0 1484.7 L1171.5 1483.5 L1173.0 1482.2 L1174.5 1480.9 L1176.0 1479.6 L1177.5 1478.2 L1179.0 1476.9 L1180.6 1475.6 L1182.1 1474.4 L1183.7 1473.1 L1185.3 1471.9 L1186.9 1470.7 L1188.5 1469.6 L1190.2 1468.5 L1191.9 1467.4 L1193.6 1466.3 L1195.3 1465.2 L1196.9 1464.2 L1198.6 1463.1 L1200.3 1461.9 L1201.9 1460.8 L1203.5 1459.6 L1205.1 1458.4 L1206.7 1457.2 L1208.3 1456.0 L1209.9 1454.9 L1211.6 1453.8 L1213.4 1452.8 L1215.2 1451.8 L1217.0 1451.0 L1218.9 1450.3 L1220.8 1449.7 L1222.7 1449.3 L1224.7 1449.1 L1226.7 1449.0 L1228.6 1449.0 L1230.6 1449.2 L1232.6 1449.4 L1234.7 1449.6 L1236.7 1449.9 L1238.7 1450.1 L1240.7 1450.2 L1242.8 1450.2 L1244.8 1450.2 L1246.8 1450.0 L1248.7 1449.6 L1250.6 1449.1 L1252.4 1448.4 L1254.2 1447.5 L1255.9 1446.4 L1257.5 1445.2 L1259.1 1443.9 L1260.6 1442.6 L1262.1 1441.2 L1263.5 1439.8 L1265.0 1438.5 L1266.4 1437.1 L1267.9 1435.8 L1269.5 1434.5 L1271.0 1433.3 L1272.7 1432.2 L1274.4 1431.1 L1276.2 1430.1 L1278.0 1429.3 L1279.9 1428.7 L1281.8 1428.2 L1283.8 1427.9 L1285.8 1427.9 L1287.8 1428.0 L1289.7 1428.3 L1291.7 1428.7 L1293.7 1429.2 L1295.6 1429.9 L1297.5 1430.7 L1299.3 1431.6 L1301.1 1432.5 L1302.9 1433.4 L1304.7 1434.3 L1306.5 1435.1 L1308.3 1435.9 L1310.1 1436.6 L1312.0 1437.2 L1314.0 1437.6 L1316.0 1437.8 L1318.0 1437.9 L1320.0 1437.8 L1322.0 1437.6 L1324.0 1437.2 L1326.0 1436.7 L1327.9 1436.0 L1329.7 1435.1 L1331.4 1434.2 L1333.1 1433.1 L1334.7 1432.0 L1336.3 1430.7 L1337.8 1429.4 L1339.3 1428.1 L1340.8 1426.8 L1342.3 1425.5 L1343.9 1424.2 L1345.4 1423.0 L1347.0 1421.8 L1348.7 1420.6 L1350.3 1419.5 L1352.0 1418.4 L1353.7 1417.3 L1355.4 1416.3 L1357.1 1415.3 L1358.9 1414.3 L1360.7 1413.4 L1362.5 1412.5 L1364.3 1411.6 L1366.1 1410.8 L1367.9 1410.1 L1369.8 1409.4 L1371.7 1408.8 L1373.6 1408.3 L1375.6 1407.9 L1377.6 1407.7 L1379.6 1407.5 L1381.7 1407.6 L1383.7 1407.9 L1385.6 1408.5 L1387.4 1409.4 L1389.0 1410.5 L1390.5 1411.8 L1391.8 1413.3 L1393.0 1414.9 L1394.0 1416.6 L1394.9 1418.4 L1395.8 1420.2 L1396.7 1422.0 L1397.5 1423.9 L1398.4 1425.7 L1399.3 1427.5 L1400.2 1429.3 L1401.2 1431.0 L1402.1 1432.8 L1403.0 1434.6 L1403.8 1436.4 L1404.6 1438.2 L1405.3 1440.1 L1406.1 1441.9 L1406.8 1443.8 L1407.5 1445.7 L1408.2 1447.6 L1408.9 1449.5 L1409.6 1451.3 L1410.3 1453.2 L1411.1 1455.0 L1411.9 1456.9 L1412.7 1458.7 L1413.6 1460.5 L1414.5 1462.2 L1415.4 1464.0 L1416.2 1465.8 L1417.0 1467.7 L1417.8 1469.5 L1418.6 1471.4 L1419.5 1473.2 L1420.3 1475.0 L1421.2 1476.8 L1422.1 1478.5 L1423.1 1480.3 L1424.1 1482.0 L1425.2 1483.7 L1426.3 1485.4 L1427.4 1487.0 L1428.5 1488.7 L1429.6 1490.4 L1430.7 1492.1 L1431.9 1493.8 L1433.1 1495.4 L1434.5 1496.8 L1435.9 1498.1 L1437.6 1499.2 L1439.3 1500.1 L1441.1 1501.0 L1443.0 1501.8 L1444.9 1502.5 L1446.8 1503.2 L1448.7 1503.8 L1450.6 1504.5 L1452.5 1505.2 L1454.3 1505.9 L1456.2 1506.6 L1458.0 1507.4 L1459.8 1508.2 L1461.6 1509.0 L1463.4 1509.9 L1465.3 1510.7 L1467.1 1511.5 L1469.0 1512.3 L1470.9 1513.0 L1472.8 1513.6 L1474.8 1513.9 L1476.7 1514.0 L1478.7 1513.7 L1480.6 1513.1 L1482.6 1512.4 L1484.4 1511.4 L1486.1 1510.3 L1487.6 1509.0 L1488.7 1507.5 L1489.7 1505.8 L1490.5 1503.9 L1491.1 1502.0 L1491.8 1500.0 L1492.5 1498.1 L1493.2 1496.2 L1494.0 1494.4 L1494.8 1492.6 L1495.6 1490.8 L1496.5 1489.0 L1497.4 1487.2 L1498.3 1485.4 L1499.2 1483.7 L1500.2 1481.9 L1501.2 1480.1 L1502.2 1478.4 L1503.2 1476.6 L1504.3 1475.0 L1505.6 1473.4 L1507.0 1472.0 L1508.6 1470.8 L1510.3 1469.8 L1512.2 1469.0 L1514.2 1468.6 L1516.2 1468.6 L1518.1 1469.0 L1519.9 1469.7 L1521.6 1470.8 L1523.2 1472.1 L1524.5 1473.6 L1525.7 1475.2 L1526.8 1476.9 L1527.8 1478.7 L1528.8 1480.4 L1529.8 1482.1 L1530.9 1483.8 L1531.9 1485.5 L1532.9 1487.3 L1533.9 1489.0 L1534.9 1490.7 L1536.0 1492.4 L1537.1 1494.1 L1538.2 1495.7 L1539.5 1497.3 L1540.8 1498.8 L1542.3 1500.1 L1544.0 1501.3 L1545.7 1502.3 L1547.7 1502.9 L1549.7 1503.1 L1551.6 1502.9 L1553.5 1502.2 L1555.3 1501.2 L1556.8 1499.9 L1558.1 1498.4 L1559.4 1496.9 L1560.8 1495.3 L1562.2 1493.9 L1563.7 1492.7 L1565.5 1491.8 L1567.4 1491.1 L1569.4 1490.6 L1571.4 1490.1 L1573.4 1489.8 L1575.4 1489.9 L1577.3 1490.3 L1579.2 1491.1 L1580.9 1492.1 L1582.5 1493.4 L1583.8 1494.8 L1585.0 1496.3 L1586.1 1498.0 L1587.1 1499.8 L1587.9 1501.6 L1588.8 1503.4 L1589.6 1505.3 L1590.4 1507.2 L1591.2 1509.1 L1592.0 1510.9 L1592.7 1512.7 L1593.5 1514.6 L1594.3 1516.4 L1595.1 1518.2 L1595.9 1520.0 L1596.7 1521.8 L1597.5 1523.7 L1598.3 1525.5 L1599.0 1527.3 L1599.8 1529.2 L1600.6 1531.0 L1601.4 1532.9 L1602.2 1534.7 L1603.0 1536.6 L1603.8 1538.4 L1604.7 1540.2 L1605.7 1541.9 L1606.9 1543.6 L1608.4 1545.0 L1610.0 1546.2 L1611.9 1547.0 L1613.9 1547.1 L1615.8 1546.6 L1617.4 1545.5 L1618.8 1544.0 L1620.0 1542.3 L1621.0 1540.5 L1621.9 1538.7 L1622.8 1536.8 L1623.5 1535.0 L1624.3 1533.2 L1625.0 1531.3 L1625.7 1529.5 L1626.4 1527.6 L1627.0 1525.7 L1627.7 1523.8 L1628.4 1522.0 L1629.1 1520.1 L1629.7 1518.2 L1630.4 1516.3 L1631.0 1514.3 L1631.7 1512.4 L1632.4 1510.5 L1633.0 1508.7 L1633.6 1506.8 L1634.3 1504.9 L1634.9 1503.0 L1635.6 1501.1 L1636.3 1499.3 L1637.0 1497.4 L1637.7 1495.6 L1638.4 1493.8 L1639.3 1491.9 L1640.1 1490.1 L1641.0 1488.3 L1642.0 1486.5 L1643.1 1484.7 L1644.3 1483.0 L1645.6 1481.4 L1647.1 1480.2 L1648.9 1479.4 L1650.8 1479.1 L1652.8 1479.1 L1654.9 1479.4 L1656.8 1480.1 L1658.7 1481.0 L1660.3 1482.2 L1661.7 1483.5 L1662.9 1485.0 L1663.9 1486.7 L1664.9 1488.4 L1665.7 1490.3 L1666.6 1492.1 L1667.4 1494.0 L1668.2 1495.9 L1669.0 1497.8 L1669.8 1499.6 L1670.6 1501.5 L1671.5 1503.3 L1672.3 1505.1 L1673.1 1506.9 L1673.9 1508.8 L1674.7 1510.6 L1675.4 1512.4 L1676.2 1514.3 L1676.9 1516.1 L1677.5 1518.0 L1678.2 1519.8 L1678.9 1521.7 L1679.5 1523.6 L1680.2 1525.4 L1680.9 1527.3 L1681.6 1529.2 L1682.4 1531.0 L1683.2 1532.9 L1684.1 1534.7 L1685.1 1536.5 L1686.1 1538.3 L1687.3 1540.1 L1688.5 1541.7 L1689.9 1543.1 L1691.4 1544.3 L1693.1 1545.2 L1694.9 1545.7 L1696.9 1545.9 L1698.9 1545.7 L1701.0 1545.3 L1703.0 1544.7 L1704.8 1543.9 L1706.6 1542.9 L1708.2 1541.8 L1709.8 1540.6 L1711.4 1539.4 L1712.9 1538.1 L1714.4 1536.8 L1715.7 1535.3 L1716.9 1533.7 L1717.9 1532.0 L1718.9 1530.2 L1719.7 1528.4 L1720.5 1526.6 L1721.4 1524.7 L1722.2 1522.9 L1723.0 1521.1 L1723.9 1519.2 L1724.7 1517.4 L1725.6 1515.6 L1726.4 1513.8 L1727.3 1512.0 L1728.3 1510.2 L1729.2 1508.5 L1730.1 1506.7 L1731.1 1505.0 L1732.2 1503.3 L1733.2 1501.6 L1734.3 1499.9 L1735.4 1498.3 L1736.6 1496.6 L1737.8 1495.0 L1739.0 1493.5 L1740.3 1491.9 L1741.6 1490.4 L1743.1 1489.0 L1744.6 1487.6 L1746.2 1486.5 L1748.0 1485.6 L1749.8 1484.9 L1751.8 1484.5 L1753.9 1484.3 L1755.9 1484.4 L1757.9 1484.6 L1759.9 1485.0 L1761.8 1485.6 L1763.7 1486.5 L1765.4 1487.4 L1767.1 1488.6 L1768.6 1489.8 L1769.9 1491.3 L1771.2 1492.8 L1772.4 1494.4 L1773.6 1496.0 L1774.8 1497.6 L1776.1 1499.2 L1777.4 1500.8 L1778.7 1502.3 L1779.9 1503.9 L1781.1 1505.5 L1782.2 1507.1 L1783.3 1508.8 L1784.4 1510.5 L1785.4 1512.2 L1786.5 1513.8 L1787.5 1515.5 L1788.6 1517.2 L1789.8 1518.8 L1791.0 1520.4 L1792.3 1522.0 L1793.7 1523.5 L1795.2 1524.9 L1796.8 1526.1 L1798.5 1527.2 L1800.3 1528.0 L1802.2 1528.5 L1804.2 1528.7 L1806.2 1528.5 L1808.1 1527.8 L1809.8 1526.8 L1811.3 1525.4 L1812.7 1523.9 L1814.1 1522.4 L1815.4 1520.9 L1816.7 1519.4 L1818.0 1517.9 L1819.2 1516.3 L1820.4 1514.7 L1821.5 1513.0 L1822.5 1511.3 L1823.6 1509.6 L1824.5 1507.9 L1825.5 1506.1 L1826.4 1504.3 L1827.3 1502.5 L1828.1 1500.7 L1828.9 1498.8 L1829.7 1497.0 L1830.5 1495.1 L1831.3 1493.3 L1832.1 1491.5 L1832.9 1489.7 L1833.8 1487.9 L1834.8 1486.1 L1835.8 1484.4 L1836.9 1482.8 L1838.2 1481.2 L1839.5 1479.7 L1841.1 1478.4 L1842.8 1477.3 L1844.6 1476.5 L1846.6 1475.8 L1848.6 1475.5 L1850.6 1475.4 L1852.5 1475.7 L1854.4 1476.2 L1856.2 1477.0 L1857.8 1478.1 L1859.5 1479.3 L1861.0 1480.6 L1862.5 1482.0 L1863.9 1483.5 L1865.3 1485.0 L1866.6 1486.6 L1867.9 1488.1 L1869.1 1489.7 L1870.4 1491.2 L1871.7 1492.7 L1873.0 1494.2 L1874.3 1495.6 L1875.7 1497.1 L1877.1 1498.4 L1878.6 1499.7 L1880.2 1501.0 L1881.9 1502.2 L1883.7 1503.2 L1885.6 1504.1 L1887.4 1504.8 L1889.3 1505.1 L1891.2 1505.0 L1893.0 1504.5 L1894.8 1503.6 L1896.5 1502.3 L1898.0 1500.8 L1899.5 1499.3 L1900.9 1497.8 L1902.2 1496.3 L1903.5 1494.9 L1904.8 1493.4 L1906.0 1491.8 L1907.2 1490.3 L1908.4 1488.7 L1909.7 1487.1 L1910.9 1485.5 L1912.2 1483.9 L1913.5 1482.4 L1914.9 1480.9 L1916.3 1479.5 L1917.8 1478.1 L1919.3 1476.9 L1920.8 1475.6 L1922.5 1474.5 L1924.1 1473.4 L1925.9 1472.4 L1927.7 1471.5 L1929.5 1470.7 L1931.4 1470.0 L1933.3 1469.3 L1935.2 1468.8 L1937.2 1468.2 L1939.1 1467.7 L1941.0 1467.1 L1942.8 1466.3 L1944.5 1465.3 L1946.2 1464.3 L1947.9 1463.2 L1949.7 1462.2 L1951.5 1461.3 L1953.3 1460.4 L1955.0 1459.4 L1956.6 1458.3 L1958.2 1457.1 L1959.7 1455.9 L1961.3 1454.6 L1962.9 1453.5 L1964.7 1452.5 L1966.5 1451.6 L1968.6 1451.0 L1970.6 1450.6 L1972.7 1450.6 L1974.6 1451.0 L1976.4 1451.6 L1978.1 1452.5 L1979.7 1453.7 L1981.2 1455.0 L1982.6 1456.5 L1983.9 1458.1 L1985.1 1459.7 L1986.2 1461.4 L1987.2 1463.1 L1988.2 1464.8 L1989.0 1466.6 L1989.9 1468.4 L1990.7 1470.3 L1991.5 1472.1 L1992.2 1474.0 L1993.0 1475.8 L1993.7 1477.7 L1994.5 1479.6 L1995.2 1481.4 L1996.0 1483.3 L1996.7 1485.2 L1997.4 1487.0 L1998.1 1488.9 L1998.8 1490.8 L1999.5 1492.6 L2000.2 1494.5 L2000.9 1496.4 L2001.6 1498.3 L2002.3 1500.2 L2002.9 1502.0 L2003.6 1503.9 L2004.2 1505.8 L2004.8 1507.7 L2005.4 1509.6 L2006.0 1511.5 L2006.6 1513.4 L2007.1 1515.4 L2007.7 1517.3 L2008.2 1519.2 L2008.8 1521.1 L2009.4 1523.0 L2010.0 1524.9 L2010.6 1526.9 L2011.2 1528.8 L2011.8 1530.7 L2012.5 1532.6 L2013.3 1534.5 L2014.1 1536.3 L2015.1 1538.0 L2016.2 1539.7 L2017.5 1541.2 L2018.9 1542.6 L2020.6 1543.8 L2022.4 1544.6 L2024.3 1544.7 L2026.3 1544.2 L2028.1 1543.2 L2029.5 1541.8 L2030.7 1540.2 L2031.8 1538.4 L2032.7 1536.6 L2033.6 1534.8 L2034.5 1533.0 L2035.3 1531.2 L2036.0 1529.3 L2036.7 1527.5 L2037.4 1525.6 L2038.1 1523.7 L2038.8 1521.8 L2039.4 1519.9 L2040.1 1518.1 L2040.7 1516.2 L2041.4 1514.3 L2042.1 1512.4 L2042.9 1510.5 L2043.6 1508.7 L2044.3 1506.8 L2045.1 1505.0 L2045.9 1503.1 L2046.6 1501.3 L2047.4 1499.4 L2048.2 1497.6 L2048.9 1495.7 L2049.7 1493.9 L2050.5 1492.1 L2051.3 1490.3 L2052.2 1488.5 L2053.2 1486.7 L2054.3 1485.0 L2055.6 1483.3 L2057.1 1481.9 L2058.8 1480.9 L2060.7 1480.4 L2062.6 1480.5 L2064.6 1481.0 L2066.4 1481.9 L2067.9 1483.2 L2069.1 1484.8 L2070.1 1486.5 L2071.1 1488.4 L2072.1 1490.1 L2073.2 1491.8 L2074.4 1493.4 L2075.5 1495.0 L2076.6 1496.7 L2077.7 1498.3 L2078.8 1500.1 L2079.9 1501.7 L2081.0 1503.4 L2082.3 1505.0 L2083.7 1506.5 L2085.2 1507.8 L2086.9 1508.9 L2088.7 1509.5 L2090.6 1509.3 L2092.4 1508.4 L2094.0 1507.1 L2095.4 1505.6 L2096.6 1504.0 L2097.7 1502.3 L2098.8 1500.6 L2099.9 1498.9 L2101.0 1497.2 L2102.2 1495.6 L2103.4 1494.0 L2104.5 1492.4 L2105.5 1490.7 L2106.4 1488.9 L2107.4 1487.1 L2108.3 1485.3 L2109.2 1483.5 L2110.2 1481.8 L2111.2 1480.1 L2112.4 1478.5 L2113.6 1476.9 L2114.9 1475.4 L2116.4 1474.0 L2117.9 1472.7 L2119.6 1471.6 L2121.4 1470.7 L2123.3 1470.2 L2125.3 1470.1 L2127.3 1470.5 L2129.2 1471.2 L2131.0 1472.0 L2132.8 1473.1 L2134.4 1474.1 L2136.1 1475.3 L2137.8 1476.4 L2139.5 1477.5 L2141.2 1478.4 L2143.1 1479.2 L2145.0 1479.7 L2147.0 1479.9 L2149.0 1479.7 L2150.9 1479.1 L2152.8 1478.4 L2154.6 1477.5 L2156.4 1476.5 L2158.1 1475.4 L2159.7 1474.3 L2161.3 1473.1 L2162.9 1471.9 L2164.5 1470.7 L2166.1 1469.5 L2167.7 1468.3 L2169.4 1467.2" stroke="#FFC010"/>
<path d="M290.0 1526.5 L291.1 1527.9 L292.4 1529.3 L294.0 1530.8 L295.7 1532.1 L297.5 1533.2 L299.4 1534.1 L301.3 1534.5 L303.2 1534.4 L305.1 1533.9 L306.9 1533.0 L308.6 1531.8 L310.0 1530.4 L311.3 1528.8 L312.5 1527.2 L313.7 1525.5 L314.9 1523.9 L316.1 1522.3 L317.2 1520.7 L318.2 1519.0 L319.2 1517.2 L320.1 1515.5 L321.0 1513.6 L321.8 1511.8 L322.6 1509.9 L323.4 1508.1 L324.2 1506.3 L325.1 1504.4 L325.9 1502.6 L326.7 1500.8 L327.6 1499.0 L328.4 1497.3 L329.3 1495.5 L330.3 1493.8 L331.3 1492.0 L332.3 1490.3 L333.4 1488.6 L334.5 1487.0 L335.7 1485.4 L337.0 1483.8 L338.4 1482.2 L339.8 1480.6 L341.3 1479.2 L342.9 1477.9 L344.6 1476.9 L346.3 1476.3 L348.1 1476.1 L350.0 1476.5 L351.9 1477.2 L353.8 1478.2 L355.6 1479.2 L357.3 1480.3 L359.0 1481.4 L360.6 1482.6 L362.1 1483.9 L363.5 1485.3 L364.9 1486.7 L366.2 1488.2 L367.6 1489.7 L369.0 1491.2 L370.4 1492.5 L372.0 1493.7 L373.7 1494.8 L375.5 1495.8 L377.3 1496.7 L379.1 1497.6 L380.9 1498.5 L382.6 1499.5 L384.3 1500.5 L386.0 1501.5 L387.7 1502.6 L389.3 1503.8 L390.9 1505.0 L392.5 1506.2 L394.1 1507.5 L395.6 1508.7 L397.1 1510.1 L398.5 1511.5 L399.9 1512.9 L401.3 1514.3 L402.7 1515.7 L404.1 1517.2 L405.4 1518.7 L406.8 1520.2 L408.2 1521.6 L409.6 1523.1 L411.0 1524.4 L412.5 1525.8 L414.0 1527.1 L415.6 1528.4 L417.2 1529.6 L418.8 1530.7 L420.5 1531.8 L422.2 1532.9 L423.9 1533.9 L425.6 1534.9 L427.3 1535.9 L429.1 1536.8 L430.9 1537.7 L432.7 1538.5 L434.6 1539.3 L436.5 1540.0 L438.5 1540.6 L440.5 1541.0 L442.5 1541.3 L444.4 1541.4 L446.4 1541.2 L448.2 1540.7 L450.0 1540.0 L451.8 1539.0 L453.5 1537.9 L455.1 1536.7 L456.7 1535.4 L458.3 1534.1 L459.9 1532.8 L461.5 1531.6 L463.0 1530.3 L464.5 1529.1 L466.0 1527.8 L467.4 1526.4 L468.9 1525.0 L470.2 1523.6 L471.6 1522.1 L472.9 1520.6 L474.2 1519.0 L475.5 1517.4 L476.7 1515.8 L477.8 1514.2 L478.9 1512.5 L480.0 1510.9 L481.1 1509.2 L482.2 1507.5 L483.3 1505.9 L484.5 1504.2 L485.6 1502.6 L486.8 1501.0 L488.0 1499.5 L489.3 1498.0 L490.7 1496.5 L492.1 1495.1 L493.6 1493.7 L495.2 1492.5 L496.9 1491.3 L498.7 1490.3 L500.6 1489.4 L502.5 1488.8 L504.4 1488.4 L506.3 1488.3 L508.3 1488.6 L510.2 1489.1 L512.1 1490.0 L513.7 1491.1 L515.2 1492.5 L516.5 1494.0 L517.7 1495.6 L518.9 1497.3 L520.0 1499.0 L521.2 1500.6 L522.3 1502.3 L523.4 1504.0 L524.5 1505.7 L525.5 1507.3 L526.6 1509.0 L527.6 1510.7 L528.6 1512.4 L529.6 1514.1 L530.7 1515.8 L531.8 1517.5 L532.9 1519.1 L534.1 1520.8 L535.4 1522.3 L536.7 1523.9 L538.1 1525.4 L539.6 1526.8 L541.2 1528.0 L542.9 1529.1 L544.7 1530.0 L546.5 1530.6 L548.5 1530.9 L550.5 1530.9 L552.5 1530.6 L554.4 1529.9 L556.1 1529.0 L557.8 1527.9 L559.5 1526.8 L561.3 1525.9 L563.2 1525.3 L565.2 1524.8 L567.1 1524.6 L569.1 1524.6 L571.1 1524.8 L573.1 1525.1 L575.1 1525.5 L577.1 1526.1 L579.0 1526.7 L580.9 1527.4 L582.7 1528.2 L584.5 1529.0 L586.2 1530.0 L587.8 1531.2 L589.3 1532.5 L590.7 1534.0 L592.0 1535.5 L593.4 1536.9 L594.9 1538.2 L596.5 1539.4 L598.3 1540.3 L600.2 1540.9 L602.2 1541.4 L604.2 1541.6 L606.3 1541.6 L608.3 1541.5 L610.3 1541.2 L612.3 1540.8 L614.2 1540.2 L616.0 1539.6 L617.9 1539.1 L619.9 1538.5 L621.8 1538.1 L623.8 1537.6 L625.7 1537.3 L627.7 1537.0 L629.7 1536.8 L631.7 1536.6 L633.7 1536.5 L635.7 1536.3 L637.7 1536.1 L639.7 1535.9 L641.7 1535.6 L643.7 1535.1 L645.6 1534.6 L647.5 1533.8 L649.2 1532.9 L650.8 1531.8 L652.4 1530.5 L653.8 1529.1 L655.2 1527.6 L656.5 1526.1 L657.9 1524.6 L659.2 1523.0 L660.4 1521.4 L661.6 1519.9 L662.8 1518.2 L663.9 1516.6 L665.0 1514.9 L666.1 1513.2 L667.1 1511.5 L668.2 1509.9 L669.2 1508.2 L670.3 1506.5 L671.4 1504.8 L672.6 1503.2 L673.8 1501.6 L675.1 1500.0 L676.5 1498.5 L678.0 1497.1 L679.5 1495.8 L681.1 1494.7 L682.9 1493.7 L684.7 1493.0 L686.7 1492.4 L688.6 1492.2 L690.6 1492.5 L692.5 1493.1 L694.3 1494.1 L696.0 1495.2 L697.6 1496.4 L699.1 1497.6 L700.6 1499.0 L701.9 1500.4 L703.2 1501.9 L704.5 1503.5 L705.7 1505.1 L706.9 1506.8 L708.1 1508.4 L709.4 1510.1 L710.6 1511.7 L711.9 1513.3 L713.2 1514.8 L714.6 1516.2 L716.0 1517.5 L717.5 1518.7 L719.2 1519.8 L720.9 1520.6 L722.8 1521.4 L724.7 1522.0 L726.7 1522.4 L728.7 1522.7 L730.7 1522.9 L732.8 1523.0 L734.8 1522.9 L736.8 1522.8 L738.8 1522.4 L740.7 1521.9 L742.5 1521.2 L744.3 1520.3 L746.0 1519.3 L747.7 1518.2 L749.4 1517.1 L751.2 1516.1 L752.9 1515.1 L754.6 1514.1 L756.4 1513.1 L758.1 1512.2 L759.9 1511.2 L761.6 1510.3 L763.4 1509.4 L765.2 1508.5 L767.1 1507.7 L768.9 1507.0 L770.8 1506.3 L772.7 1505.6 L774.7 1505.1 L776.6 1504.7 L778.6 1504.5 L780.6 1504.6 L782.6 1504.8 L784.6 1505.2 L786.5 1505.6 L788.5 1506.1 L790.5 1506.6 L792.4 1507.0 L794.3 1507.5 L796.3 1508.0 L798.2 1508.6 L800.1 1509.2 L802.0 1509.9 L803.9 1510.5 L805.8 1511.2 L807.7 1511.8 L809.6 1512.3 L811.6 1512.8 L813.5 1513.2 L815.5 1513.4 L817.5 1513.6 L819.5 1513.7 L821.5 1513.9 L823.5 1514.1 L825.4 1514.5 L827.3 1515.0 L829.3 1515.5 L831.2 1516.0 L833.2 1516.5 L835.2 1516.9 L837.3 1517.1 L839.3 1517.2 L841.3 1517.1 L843.2 1516.7 L845.1 1516.1 L846.9 1515.3 L848.7 1514.4 L850.4 1513.3 L852.0 1512.1 L853.6 1510.8 L855.1 1509.5 L856.5 1508.1 L857.8 1506.7 L859.2 1505.2 L860.4 1503.6 L861.6 1502.0 L862.8 1500.4 L863.9 1498.7 L865.0 1497.0 L866.0 1495.3 L867.1 1493.6 L868.1 1491.9 L869.1 1490.1 L870.1 1488.4 L871.1 1486.6 L872.1 1484.9 L873.0 1483.1 L874.0 1481.4 L875.0 1479.6 L876.0 1477.9 L877.0 1476.2 L878.0 1474.4 L879.0 1472.7 L880.0 1471.0 L881.1 1469.3 L882.1 1467.6 L883.2 1466.0 L884.3 1464.3 L885.4 1462.6 L886.5 1460.9 L887.6 1459.3 L888.7 1457.6 L889.9 1456.0 L891.0 1454.3 L892.1 1452.6 L893.2 1451.0 L894.3 1449.3 L895.4 1447.6 L896.4 1445.9 L897.5 1444.2 L898.5 1442.4 L899.4 1440.7 L900.4 1438.9 L901.3 1437.2 L902.2 1435.4 L903.1 1433.6 L903.9 1431.8 L904.8 1430.0 L905.7 1428.2 L906.6 1426.4 L907.5 1424.6 L908.4 1422.8 L909.3 1421.0 L910.1 1419.2 L910.8 1417.3 L911.6 1415.5 L912.2 1413.6 L912.9 1411.7 L913.6 1409.8 L914.2 1407.9 L914.9 1406.0 L915.5 1404.1 L916.2 1402.2 L916.9 1400.4 L917.6 1398.5 L918.4 1396.7 L919.2 1394.8 L920.0 1393.0 L920.9 1391.2 L921.7 1389.3 L922.5 1387.5 L923.3 1385.7 L924.0 1383.8 L924.7 1381.9 L925.4 1380.1 L926.0 1378.2 L926.7 1376.3 L927.3 1374.4 L927.9 1372.5 L928.4 1370.5 L929.0 1368.6 L929.5 1366.7 L930.0 1364.7 L930.5 1362.8 L931.0 1360.9 L931.4 1358.9 L931.9 1356.9 L932.3 1355.0 L932.8 1353.0 L933.2 1351.1 L933.6 1349.1 L934.1 1347.2 L934.5 1345.2 L934.9 1343.3 L935.4 1341.3 L935.8 1339.3 L936.2 1337.4 L936.6 1335.4 L937.0 1333.5 L937.5 1331.5 L937.9 1329.6 L938.3 1327.6 L938.7 1325.6 L939.1 1323.7 L939.5 1321.7 L940.0 1319.8 L940.4 1317.8 L940.8 1315.9 L941.2 1313.9 L941.6 1312.0 L942.1 1310.0 L942.5 1308.1 L942.9 1306.1 L943.3 1304.1 L943.8 1302.2 L944.2 1300.2 L944.7 1298.3 L945.1 1296.3 L945.5 1294.4 L946.0 1292.4 L946.5 1290.5 L946.9 1288.5 L947.4 1286.6 L947.8 1284.6 L948.3 1282.7 L948.7 1280.7 L949.2 1278.8 L949.6 1276.8 L950.1 1274.9 L950.5 1272.9 L951.0 1271.0 L951.4 1269.0 L951.8 1267.1 L952.3 1265.1 L952.7 1263.2 L953.1 1261.2 L953.5 1259.3 L953.9 1257.3 L954.4 1255.3 L954.8 1253.4 L955.2 1251.4 L955.6 1249.5 L956.0 1247.5 L956.3 1245.5 L956.7 1243.6 L957.1 1241.6 L957.5 1239.7 L957.9 1237.7 L958.3 1235.7 L958.7 1233.8 L959.0 1231.8 L959.4 1229.8 L959.8 1227.9 L960.2 1225.9 L960.6 1223.9 L960.9 1222.0 L961.3 1220.0 L961.7 1218.0 L962.1 1216.1 L962.5 1214.1 L962.9 1212.2 L963.2 1210.2 L963.6 1208.2 L964.0 1206.3 L964.4 1204.3 L964.8 1202.3 L965.2 1200.4 L965.6 1198.4 L966.0 1196.4 L966.4 1194.5 L966.8 1192.5 L967.2 1190.6 L967.6 1188.6 L968.0 1186.6 L968.4 1184.7 L968.8 1182.7 L969.2 1180.8 L969.6 1178.8 L970.0 1176.8 L970.5 1174.9 L970.9 1172.9 L971.3 1171.0 L971.8 1169.0 L972.2 1167.1 L972.6 1165.1 L973.1 1163.2 L973.5 1161.2 L974.0 1159.3 L974.4 1157.3 L974.9 1155.4 L975.4 1153.5 L975.8 1151.5 L976.3 1149.6 L976.8 1147.6 L977.2 1145.7 L977.7 1143.7 L978.1 1141.8 L978.6 1139.8 L979.0 1137.9 L979.4 1135.9 L979.9 1134.0 L980.3 1132.0 L980.7 1130.1 L981.1 1128.1 L981.5 1126.1 L981.9 1124.2 L982.3 1122.2 L982.7 1120.2 L983.1 1118.3 L983.5 1116.3 L983.9 1114.3 L984.3 1112.3 L984.7 1110.4 L985.1 1108.4 L985.5 1106.4 L985.9 1104.5 L986.3 1102.5 L986.7 1100.6 L987.1 1098.6 L987.6 1096.7 L988.0 1094.7 L988.4 1092.8 L988.9 1090.8 L989.4 1088.9 L989.8 1087.0 L990.3 1085.0 L990.8 1083.1 L991.3 1081.2 L991.8 1079.3 L992.4 1077.4 L992.9 1075.5 L993.5 1073.6 L994.1 1071.7 L994.7 1069.8 L995.4 1067.9 L996.1 1066.0 L996.8 1064.0 L997.6 1062.1 L998.5 1060.2 L999.4 1058.4 L1000.6 1056.7 L1001.9 1055.2 L1003.5 1053.9 L1005.3 1053.1 L1007.0 1053.0 L1008.6 1053.6 L1010.0 1054.9 L1011.3 1056.6 L1012.5 1058.6 L1013.5 1060.6 L1014.4 1062.5 L1015.2 1064.5 L1015.9 1066.4 L1016.6 1068.3 L1017.2 1070.2 L1017.7 1072.1 L1018.2 1074.1 L1018.6 1076.0 L1019.1 1077.9 L1019.6 1079.8 L1020.0 1081.7 L1020.4 1083.6 L1020.9 1085.6 L1021.3 1087.5 L1021.8 1089.4 L1022.2 1091.4 L1022.6 1093.3 L1023.0 1095.2 L1023.4 1097.2 L1023.8 1099.1 L1024.2 1101.1 L1024.6 1103.0 L1025.0 1105.0 L1025.4 1107.0 L1025.8 1108.9 L1026.2 1110.9 L1026.6 1112.8 L1026.9 1114.8 L1027.3 1116.8 L1027.7 1118.8 L1028.0 1120.7 L1028.4 1122.7 L1028.8 1124.7 L1029.1 1126.7 L1029.5 1128.6 L1029.8 1130.6 L1030.2 1132.6 L1030.5 1134.6 L1030.8 1136.6 L1031.2 1138.5 L1031.5 1140.5 L1031.8 1142.5 L1032.2 1144.5 L1032.5 1146.5 L1032.8 1148.5 L1033.1 1150.4 L1033.5 1152.4 L1033.8 1154.4 L1034.1 1156.4 L1034.4 1158.4 L1034.7 1160.3 L1035.0 1162.3 L1035.3 1164.3 L1035.7 1166.3 L1036.0 1168.2 L1036.3 1170.2 L1036.6 1172.2 L1036.9 1174.2 L1037.2 1176.1 L1037.5 1178.1 L1037.7 1180.1 L1038.0 1182.1 L1038.3 1184.1 L1038.6 1186.0 L1038.9 1188.0 L1039.2 1190.0 L1039.5 1192.0 L1039.7 1193.9 L1040.0 1195.9 L1040.3 1197.9 L1040.6 1199.9 L1040.8 1201.8 L1041.1 1203.8 L1041.4 1205.8 L1041.6 1207.8 L1041.9 1209.8 L1042.2 1211.7 L1042.4 1213.7 L1042.7 1215.7 L1042.9 1217.7 L1043.2 1219.7 L1043.4 1221.7 L1043.7 1223.6 L1043.9 1225.6 L1044.2 1227.6 L1044.4 1229.6 L1044.7 1231.6 L1044.9 1233.6 L1045.1 1235.6 L1045.4 1237.6 L1045.6 1239.6 L1045.9 1241.5 L1046.1 1243.5 L1046.4 1245.5 L1046.6 1247.5 L1046.9 1249.5 L1047.2 1251.5 L1047.4 1253.5 L1047.7 1255.5 L1047.9 1257.4 L1048.2 1259.4 L1048.5 1261.4 L1048.8 1263.4 L1049.1 1265.4 L1049.3 1267.4 L1049.6 1269.3 L1049.9 1271.3 L1050.2 1273.3 L1050.5 1275.3 L1050.9 1277.2 L1051.2 1279.2 L1051.5 1281.2 L1051.8 1283.2 L1052.1 1285.1 L1052.4 1287.1 L1052.8 1289.1 L1053.1 1291.0 L1053.4 1293.0 L1053.7 1295.0 L1054.0 1297.0 L1054.3 1298.9 L1054.6 1300.9 L1054.9 1302.9 L1055.2 1304.9 L1055.5 1306.9 L1055.8 1308.8 L1056.1 1310.8 L1056.4 1312.8 L1056.7 1314.8 L1057.0 1316.8 L1057.3 1318.7 L1057.6 1320.7 L1057.9 1322.7 L1058.2 1324.7 L1058.5 1326.7 L1058.8 1328.6 L1059.1 1330.6 L1059.4 1332.6 L1059.7 1334.6 L1060.0 1336.6 L1060.4 1338.5 L1060.7 1340.5 L1061.0 1342.5 L1061.3 1344.5 L1061.6 1346.4 L1062.0 1348.4 L1062.3 1350.4 L1062.7 1352.4 L1063.0 1354.3 L1063.4 1356.3 L1063.8 1358.3 L1064.1 1360.2 L1064.5 1362.2 L1064.9 1364.1 L1065.3 1366.1 L1065.7 1368.1 L1066.1 1370.0 L1066.5 1372.0 L1066.9 1373.9 L1067.4 1375.9 L1067.8 1377.8 L1068.3 1379.8 L1068.7 1381.7 L1069.2 1383.6 L1069.7 1385.6 L1070.2 1387.5 L1070.7 1389.5 L1071.2 1391.4 L1071.7 1393.4 L1072.2 1395.3 L1072.8 1397.2 L1073.3 1399.2 L1073.9 1401.1 L1074.5 1403.0 L1075.1 1404.9 L1075.7 1406.9 L1076.3 1408.7 L1077.0 1410.6 L1077.8 1412.5 L1078.6 1414.3 L1079.4 1416.1 L1080.3 1417.9 L1081.3 1419.6 L1082.4 1421.3 L1083.5 1422.9 L1084.7 1424.5 L1086.0 1426.0 L1087.3 1427.5 L1088.8 1429.0 L1090.2 1430.4 L1091.7 1431.7 L1093.3 1432.9 L1095.0 1434.1 L1096.6 1435.2 L1098.4 1436.3 L1100.1 1437.2 L1101.9 1438.1 L1103.7 1438.9 L1105.6 1439.7 L1107.4 1440.4 L1109.3 1441.2 L1111.1 1442.1 L1112.8 1443.0 L1114.5 1444.1 L1116.1 1445.2 L1117.8 1446.4 L1119.4 1447.6 L1121.0 1448.8 L1122.6 1450.0 L1124.2 1451.2 L1125.7 1452.5 L1127.3 1453.7 L1128.8 1455.0 L1130.4 1456.3 L1131.9 1457.6 L1133.5 1458.8 L1135.0 1460.1 L1136.5 1461.4 L1138.1 1462.6 L1139.7 1463.9 L1141.2 1465.1 L1142.8 1466.4 L1144.4 1467.6 L1146.0 1468.8 L1147.6 1469.9 L1149.3 1471.1 L1151.0 1472.1 L1152.7 1473.2 L1154.4 1474.1 L1156.2 1475.1 L1158.0 1475.9 L1159.9 1476.7 L1161.7 1477.4 L1163.6 1478.1 L1165.6 1478.6 L1167.5 1479.0 L1169.5 1479.4 L1171.5 1479.6 L1173.5 1479.7 L1175.5 1479.8 L1177.5 1479.8 L1179.5 1479.8 L1181.5 1479.9 L1183.5 1480.0 L1185.5 1480.2 L1187.5 1480.5 L1189.4 1480.9 L1191.4 1481.3 L1193.3 1481.9 L1195.1 1482.6 L1197.0 1483.4 L1198.8 1484.4 L1200.4 1485.6 L1201.9 1486.8 L1203.3 1488.3 L1204.6 1489.8 L1205.9 1491.3 L1207.2 1492.9 L1208.5 1494.4 L1209.7 1496.0 L1211.0 1497.5 L1212.3 1499.1 L1213.5 1500.7 L1214.7 1502.3 L1215.8 1503.9 L1217.0 1505.5 L1218.1 1507.1 L1219.2 1508.8 L1220.3 1510.4 L1221.4 1512.1 L1222.5 1513.8 L1223.5 1515.5 L1224.6 1517.2 L1225.6 1519.0 L1226.7 1520.7 L1227.8 1522.4 L1228.9 1524.1 L1230.1 1525.7 L1231.3 1527.4 L1232.5 1528.9 L1233.8 1530.4 L1235.2 1531.9 L1236.6 1533.2 L1238.2 1534.5 L1239.8 1535.6 L1241.5 1536.6 L1243.3 1537.5 L1245.2 1538.3 L1247.1 1538.9 L1249.1 1539.4 L1251.1 1539.6 L1253.1 1539.6 L1255.0 1539.4 L1256.9 1539.1 L1258.8 1538.5 L1260.7 1537.8 L1262.6 1537.0 L1264.4 1536.2 L1266.2 1535.3 L1268.1 1534.4 L1269.9 1533.6 L1271.8 1532.8 L1273.6 1532.1 L1275.5 1531.4 L1277.4 1530.8 L1279.2 1530.1 L1281.0 1529.3 L1282.8 1528.4 L1284.6 1527.5 L1286.3 1526.4 L1288.1 1525.4 L1289.8 1524.5 L1291.6 1523.5 L1293.4 1522.6 L1295.0 1521.5 L1296.5 1520.2 L1298.0 1518.9 L1299.6 1517.6 L1301.1 1516.4 L1302.8 1515.3 L1304.5 1514.2 L1306.2 1513.2 L1308.0 1512.2 L1309.8 1511.2 L1311.6 1510.4 L1313.5 1509.9 L1315.4 1509.5 L1317.4 1509.3 L1319.5 1509.4 L1321.5 1509.6 L1323.4 1510.0 L1325.4 1510.6 L1327.3 1511.4 L1329.1 1512.3 L1330.7 1513.3 L1332.3 1514.5 L1333.8 1515.8 L1335.2 1517.2 L1336.6 1518.7 L1337.8 1520.2 L1339.1 1521.8 L1340.2 1523.5 L1341.4 1525.1 L1342.5 1526.8 L1343.6 1528.5 L1344.7 1530.2 L1345.7 1531.9 L1346.8 1533.5 L1347.8 1535.2 L1348.9 1536.9 L1349.9 1538.6 L1351.0 1540.3 L1352.0 1542.0 L1353.1 1543.7 L1354.3 1545.4 L1355.6 1547.0 L1357.2 1548.4 L1358.9 1549.7 L1360.6 1550.4 L1362.5 1550.5 L1364.3 1549.8 L1366.0 1548.7 L1367.5 1547.2 L1368.7 1545.5 L1369.7 1543.8 L1370.6 1541.9 L1371.3 1540.0 L1372.0 1538.1 L1372.7 1536.2 L1373.4 1534.3 L1374.1 1532.5 L1374.7 1530.6 L1375.4 1528.8 L1376.1 1526.9 L1376.9 1525.0 L1377.6 1523.2 L1378.3 1521.3 L1379.0 1519.4 L1379.8 1517.5 L1380.5 1515.7 L1381.2 1513.8 L1382.0 1511.9 L1382.7 1510.1 L1383.5 1508.3 L1384.2 1506.4 L1385.0 1504.6 L1385.7 1502.7 L1386.5 1500.9 L1387.2 1499.0 L1387.9 1497.2 L1388.6 1495.3 L1389.3 1493.4 L1390.0 1491.5 L1390.7 1489.6 L1391.4 1487.7 L1392.1 1485.8 L1392.8 1483.9 L1393.6 1482.0 L1394.4 1480.2 L1395.3 1478.4 L1396.3 1476.7 L1397.3 1475.1 L1398.5 1473.5 L1399.8 1472.0 L1401.2 1470.6 L1402.7 1469.3 L1404.4 1468.1 L1406.2 1467.1 L1408.1 1466.4 L1410.1 1465.9 L1412.0 1465.8 L1414.0 1466.0 L1415.9 1466.6 L1417.7 1467.5 L1419.4 1468.7 L1420.9 1470.0 L1422.2 1471.5 L1423.4 1473.2 L1424.5 1474.9 L1425.5 1476.6 L1426.4 1478.4 L1427.3 1480.2 L1428.2 1482.0 L1429.0 1483.8 L1429.8 1485.6 L1430.5 1487.5 L1431.2 1489.3 L1431.9 1491.2 L1432.6 1493.1 L1433.2 1495.0 L1433.9 1496.9 L1434.5 1498.8 L1435.2 1500.7 L1435.8 1502.6 L1436.4 1504.5 L1437.0 1506.4 L1437.6 1508.3 L1438.2 1510.2 L1438.8 1512.1 L1439.4 1514.1 L1440.0 1516.0 L1440.6 1517.9 L1441.2 1519.8 L1441.8 1521.7 L1442.3 1523.6 L1442.9 1525.5 L1443.5 1527.5 L1444.0 1529.4 L1444.6 1531.3 L1445.2 1533.2 L1445.7 1535.1 L1446.3 1537.0 L1446.8 1538.9 L1447.4 1540.9 L1448.0 1542.8 L1448.6 1544.7 L1449.4 1546.6 L1450.3 1548.4 L1451.4 1550.2 L1452.7 1551.8 L1454.2 1553.0 L1456.0 1553.9 L1457.9 1554.2 L1459.8 1554.0 L1461.7 1553.3 L1463.4 1552.2 L1465.0 1550.8 L1466.3 1549.3 L1467.5 1547.6 L1468.5 1545.8 L1469.4 1544.0 L1470.1 1542.2 L1470.9 1540.3 L1471.5 1538.4 L1472.1 1536.5 L1472.8 1534.6 L1473.4 1532.8 L1474.1 1530.9 L1474.8 1529.0 L1475.5 1527.2 L1476.3 1525.3 L1476.9 1523.4 L1477.6 1521.5 L1478.2 1519.6 L1478.8 1517.7 L1479.4 1515.8 L1480.0 1513.9 L1480.6 1511.9 L1481.1 1510.0 L1481.7 1508.1 L1482.3 1506.2 L1482.9 1504.3 L1483.5 1502.4 L1484.2 1500.5 L1484.9 1498.6 L1485.7 1496.8 L1486.5 1495.0 L1487.4 1493.2 L1488.3 1491.4 L1489.3 1489.7 L1490.3 1487.9 L1491.2 1486.2 L1492.2 1484.4 L1493.2 1482.6 L1494.1 1480.8 L1495.0 1479.0 L1495.9 1477.2 L1496.8 1475.5 L1497.7 1473.7 L1498.6 1471.9 L1499.6 1470.2 L1500.6 1468.5 L1501.7 1466.8 L1502.8 1465.1 L1504.0 1463.6 L1505.3 1462.0 L1506.6 1460.4 L1507.9 1458.9 L1509.2 1457.4 L1510.4 1455.8 L1511.7 1454.2 L1512.9 1452.6 L1514.0 1451.0 L1515.2 1449.4 L1516.4 1447.8 L1517.6 1446.2 L1518.8 1444.6 L1520.0 1443.0 L1521.3 1441.5 L1522.6 1440.0 L1524.0 1438.5 L1525.5 1437.2 L1527.0 1435.9 L1528.6 1434.7 L1530.3 1433.6 L1532.1 1432.6 L1533.9 1431.8 L1535.8 1431.2 L1537.8 1430.9 L1539.8 1430.9 L1541.8 1431.2 L1543.7 1431.7 L1545.6 1432.6 L1547.2 1433.7 L1548.7 1435.0 L1550.1 1436.5 L1551.4 1438.1 L1552.7 1439.6 L1553.9 1441.2 L1555.1 1442.8 L1556.3 1444.4 L1557.6 1445.9 L1558.8 1447.5 L1560.1 1449.0 L1561.4 1450.6 L1562.7 1452.1 L1564.0 1453.7 L1565.3 1455.2 L1566.6 1456.7 L1567.9 1458.2 L1569.2 1459.7 L1570.5 1461.2 L1571.8 1462.7 L1573.1 1464.2 L1574.5 1465.6 L1576.0 1467.0 L1577.5 1468.3 L1579.1 1469.6 L1580.8 1470.8 L1582.5 1471.8 L1584.3 1472.7 L1586.1 1473.5 L1588.0 1474.1 L1589.9 1474.5 L1591.9 1474.7 L1593.9 1474.7 L1595.9 1474.6 L1597.9 1474.2 L1599.8 1473.6 L1601.7 1472.9 L1603.5 1472.0 L1605.2 1471.0 L1606.9 1469.9 L1608.5 1468.8 L1610.1 1467.5 L1611.6 1466.2 L1613.0 1464.8 L1614.5 1463.4 L1615.8 1461.9 L1617.1 1460.4 L1618.4 1458.9 L1619.7 1457.3 L1621.0 1455.8 L1622.3 1454.2 L1623.6 1452.7 L1625.0 1451.3 L1626.4 1449.8 L1627.8 1448.5 L1629.3 1447.2 L1630.9 1446.1 L1632.6 1445.0 L1634.4 1444.2 L1636.4 1443.5 L1638.4 1443.1 L1640.4 1442.9 L1642.5 1442.9 L1644.5 1443.1 L1646.4 1443.5 L1648.2 1444.2 L1650.0 1445.1 L1651.7 1446.2 L1653.3 1447.4 L1654.8 1448.7 L1656.3 1450.1 L1657.8 1451.4 L1659.2 1452.8 L1660.7 1454.3 L1662.0 1455.7 L1663.4 1457.2 L1664.7 1458.7 L1666.0 1460.2 L1667.2 1461.8 L1668.4 1463.4 L1669.6 1465.0 L1670.8 1466.6 L1671.9 1468.2 L1673.1 1469.9 L1674.2 1471.5 L1675.3 1473.2 L1676.5 1474.8 L1677.6 1476.5 L1678.8 1478.1 L1679.9 1479.8 L1681.0 1481.4 L1682.2 1483.1 L1683.3 1484.7 L1684.4 1486.4 L1685.5 1488.0 L1686.6 1489.7 L1687.7 1491.4 L1688.8 1493.1 L1689.9 1494.8 L1690.9 1496.5 L1692.0 1498.2 L1693.0 1499.9 L1694.0 1501.6 L1695.0 1503.4 L1696.0 1505.1 L1697.1 1506.8 L1698.1 1508.5 L1699.2 1510.2 L1700.3 1511.8 L1701.4 1513.5 L1702.5 1515.1 L1703.6 1516.8 L1704.7 1518.5 L1705.7 1520.2 L1706.7 1522.0 L1707.6 1523.8 L1708.6 1525.5 L1709.6 1527.3 L1710.6 1529.0 L1711.6 1530.7 L1712.7 1532.4 L1713.8 1534.0 L1715.0 1535.6 L1716.3 1537.2 L1717.6 1538.6 L1719.1 1540.1 L1720.5 1541.5 L1722.0 1542.9 L1723.4 1544.2 L1724.9 1545.6 L1726.3 1547.0 L1727.6 1548.5 L1729.0 1550.0 L1730.3 1551.5 L1731.7 1552.9 L1733.2 1554.2 L1734.9 1555.3 L1736.7 1556.2 L1738.7 1556.8 L1740.7 1557.2 L1742.7 1557.4 L1744.8 1557.3 L1746.7 1556.9 L1748.6 1556.3 L1750.4 1555.4 L1752.0 1554.2 L1753.5 1552.9 L1754.8 1551.3 L1756.0 1549.7 L1757.2 1548.0 L1758.2 1546.2 L1759.2 1544.5 L1760.1 1542.7 L1760.9 1540.9 L1761.7 1539.1 L1762.5 1537.2 L1763.2 1535.4 L1764.0 1533.5 L1764.7 1531.7 L1765.5 1529.8 L1766.3 1528.0 L1767.1 1526.1 L1768.0 1524.3 L1769.0 1522.6 L1770.0 1520.8 L1771.2 1519.2 L1772.4 1517.7 L1773.8 1516.2 L1775.3 1514.9 L1776.9 1513.7 L1778.7 1512.7 L1780.6 1512.1 L1782.6 1511.8 L1784.7 1511.9 L1786.6 1512.3 L1788.4 1513.0 L1790.0 1514.2 L1791.4 1515.7 L1792.5 1517.3 L1793.5 1519.0 L1794.5 1520.8 L1795.5 1522.6 L1796.5 1524.3 L1797.8 1525.9 L1799.0 1527.5 L1800.3 1529.0 L1801.5 1530.6 L1802.6 1532.2 L1803.8 1533.8 L1804.9 1535.5 L1806.0 1537.1 L1807.2 1538.7 L1808.5 1540.3 L1809.9 1541.8 L1811.4 1543.2 L1813.1 1544.4 L1814.9 1545.4 L1816.7 1546.0 L1818.5 1546.3 L1820.4 1546.0 L1822.3 1545.3 L1824.2 1544.3 L1825.9 1543.1 L1827.5 1541.9 L1829.0 1540.5 L1830.4 1539.1 L1831.8 1537.7 L1833.2 1536.2 L1834.5 1534.8 L1835.9 1533.4 L1837.4 1532.0 L1839.0 1530.7 L1840.6 1529.6 L1842.4 1528.5 L1844.2 1527.6 L1846.0 1527.0 L1847.9 1526.5 L1849.9 1526.4 L1851.9 1526.4 L1853.9 1526.7 L1855.9 1527.1 L1857.9 1527.6 L1859.9 1528.1 L1861.9 1528.6 L1863.8 1528.9 L1865.8 1529.2 L1867.8 1529.2 L1869.7 1529.0 L1871.6 1528.5 L1873.5 1527.9 L1875.3 1527.1 L1877.2 1526.1 L1878.9 1525.1 L1880.7 1524.0 L1882.3 1522.9 L1884.0 1521.8 L1885.6 1520.7 L1887.3 1519.6 L1889.0 1518.5 L1890.7 1517.5 L1892.5 1516.7 L1894.5 1516.0 L1896.5 1515.6 L1898.5 1515.5 L1900.4 1515.7 L1902.3 1516.1 L1904.2 1516.8 L1906.0 1517.7 L1907.7 1518.8 L1909.4 1519.9 L1911.1 1521.2 L1912.6 1522.4 L1914.2 1523.7 L1915.6 1525.1 L1917.0 1526.5 L1918.3 1528.0 L1919.5 1529.6 L1920.6 1531.2 L1921.8 1532.9 L1923.0 1534.5 L1924.2 1536.1 L1925.6 1537.5 L1927.0 1538.9 L1928.5 1540.3 L1930.0 1541.6 L1931.5 1542.9 L1933.0 1544.3 L1934.5 1545.6 L1936.0 1546.9 L1937.4 1548.3 L1938.9 1549.6 L1940.5 1550.9 L1942.1 1552.1 L1943.9 1553.1 L1945.8 1553.9 L1947.8 1554.5 L1949.8 1554.9 L1951.8 1555.1 L1953.7 1555.0 L1955.7 1554.7 L1957.6 1554.0 L1959.4 1553.2 L1961.2 1552.3 L1963.0 1551.1 L1964.6 1549.9 L1966.3 1548.6 L1967.9 1547.4 L1969.5 1546.2 L1971.2 1545.2 L1973.0 1544.4 L1974.8 1543.8 L1976.8 1543.3 L1978.7 1542.9 L1980.7 1542.6 L1982.7 1542.3 L1984.7 1542.0 L1986.7 1541.6 L1988.6 1541.2 L1990.5 1540.7 L1992.5 1540.1 L1994.5 1539.4 L1996.4 1538.7 L1998.4 1538.2 L2000.3 1538.0 L2002.1 1538.4 L2003.7 1539.3 L2005.4 1540.4 L2007.0 1541.7 L2008.8 1542.8 L2010.6 1543.8 L2012.6 1544.5 L2014.5 1545.0 L2016.5 1545.2 L2018.5 1545.1 L2020.4 1544.7 L2022.3 1544.0 L2024.0 1543.0 L2025.6 1541.7 L2027.0 1540.2 L2028.1 1538.6 L2029.1 1536.8 L2030.0 1535.0 L2031.0 1533.2 L2031.9 1531.5 L2032.9 1529.7 L2033.9 1528.0 L2034.9 1526.3 L2035.9 1524.5 L2037.0 1522.8 L2038.1 1521.2 L2039.3 1519.6 L2040.6 1518.1 L2042.0 1516.7 L2043.6 1515.5 L2045.3 1514.5 L2047.3 1513.8 L2049.3 1513.3 L2051.4 1513.1 L2053.4 1513.2 L2055.3 1513.7 L2057.0 1514.6 L2058.6 1515.8 L2060.0 1517.3 L2061.2 1519.0 L2062.3 1520.7 L2063.3 1522.4 L2064.3 1524.1 L2065.3 1525.9 L2066.5 1527.5 L2067.7 1529.1 L2068.9 1530.7 L2070.0 1532.3 L2071.1 1534.0 L2072.0 1535.7 L2073.0 1537.4 L2074.1 1539.1 L2075.3 1540.7 L2076.7 1542.2 L2078.2 1543.7 L2079.9 1544.9 L2081.7 1545.9 L2083.5 1546.7 L2085.4 1547.2 L2087.3 1547.3 L2089.3 1547.2 L2091.2 1546.7 L2093.1 1546.1 L2094.9 1545.2 L2096.6 1544.1 L2098.2 1542.8 L2099.7 1541.4 L2101.0 1539.9 L2102.1 1538.2 L2103.1 1536.5 L2104.0 1534.7 L2104.9 1532.9 L2105.8 1531.1 L2106.7 1529.3 L2107.6 1527.6 L2108.7 1525.9 L2109.8 1524.2 L2111.2 1522.7 L2112.7 1521.3 L2114.3 1520.1 L2116.0 1519.0 L2117.8 1518.0 L2119.6 1517.3 L2121.6 1516.7 L2123.5 1516.4 L2125.5 1516.3 L2127.4 1516.4 L2129.4 1516.8 L2131.3 1517.4 L2133.2 1518.1 L2135.0 1519.1 L2136.7 1520.1 L2138.4 1521.2 L2140.0 1522.4 L2141.6 1523.7 L2143.1 1525.0 L2144.6 1526.3 L2146.0 1527.7 L2147.5 1529.0 L2148.9 1530.4 L2150.4 1531.8 L2151.9 1533.1 L2153.4 1534.4 L2154.9 1535.7 L2156.6 1536.8 L2158.2 1538.0 L2160.0 1539.0 L2161.8 1539.9 L2163.6 1540.7 L2165.5 1541.4 L2167.4 1542.0 L2169.4 1542.3" stroke="#3CC473"/>
<path d="M290.0 1536.0 L291.8 1536.7 L293.7 1537.4 L295.6 1538.2 L297.4 1538.9 L299.3 1539.6 L301.2 1540.3 L303.1 1541.0 L305.0 1541.5 L306.9 1542.0 L308.9 1542.4 L310.9 1542.7 L312.8 1543.0 L314.8 1543.3 L316.8 1543.7 L318.8 1544.0 L320.8 1544.3 L322.8 1544.6 L324.7 1544.9 L326.7 1545.1 L328.7 1545.2 L330.7 1545.3 L332.7 1545.3 L334.7 1545.3 L336.7 1545.2 L338.7 1545.1 L340.7 1544.9 L342.7 1544.6 L344.7 1544.4 L346.6 1544.1 L348.6 1543.7 L350.6 1543.3 L352.5 1542.9 L354.5 1542.5 L356.4 1542.0 L358.4 1541.5 L360.3 1541.0 L362.2 1540.4 L364.2 1539.9 L366.1 1539.3 L368.0 1538.7 L369.9 1538.2 L371.8 1537.6 L373.7 1537.0 L375.7 1536.5 L377.6 1536.0 L379.5 1535.5 L381.5 1535.0 L383.4 1534.6 L385.4 1534.1 L387.3 1533.6 L389.3 1533.2 L391.2 1532.8 L393.2 1532.5 L395.2 1532.3 L397.2 1532.2 L399.2 1532.2 L401.2 1532.2 L403.2 1532.4 L405.2 1532.7 L407.2 1533.1 L409.1 1533.6 L411.0 1534.2 L412.9 1534.9 L414.7 1535.6 L416.5 1536.4 L418.4 1537.3 L420.2 1538.1 L422.1 1538.8 L424.0 1539.5 L425.9 1540.2 L427.9 1540.8 L429.8 1541.2 L431.8 1541.6 L433.7 1541.8 L435.7 1541.8 L437.7 1541.7 L439.6 1541.5 L441.6 1541.2 L443.5 1540.7 L445.5 1540.2 L447.5 1539.6 L449.4 1539.0 L451.3 1538.4 L453.3 1537.7 L455.2 1537.2 L457.1 1536.7 L459.1 1536.3 L461.0 1536.1 L463.0 1536.1 L465.0 1536.3 L467.0 1536.7 L469.0 1537.1 L470.9 1537.6 L472.9 1538.2 L474.8 1538.7 L476.7 1539.4 L478.5 1540.1 L480.3 1540.9 L482.1 1541.8 L483.9 1542.8 L485.7 1543.7 L487.5 1544.6 L489.3 1545.5 L491.1 1546.2 L493.0 1546.9 L494.9 1547.5 L496.9 1547.9 L498.8 1548.3 L500.8 1548.6 L502.8 1548.9 L504.8 1549.0 L506.8 1549.0 L508.8 1549.0 L510.8 1548.9 L512.8 1548.7 L514.8 1548.4 L516.7 1548.0 L518.7 1547.6 L520.6 1547.1 L522.6 1546.5 L524.4 1545.8 L526.3 1545.0 L528.1 1544.2 L530.0 1543.4 L531.8 1542.6 L533.6 1541.8 L535.5 1541.0 L537.3 1540.3 L539.2 1539.7 L541.1 1539.2 L543.1 1538.8 L545.1 1538.5 L547.1 1538.3 L549.1 1538.2 L551.1 1538.2 L553.2 1538.3 L555.2 1538.4 L557.2 1538.5 L559.2 1538.6 L561.1 1538.8 L563.1 1538.9 L565.1 1539.0 L567.1 1539.1 L569.1 1539.2 L571.1 1539.3 L573.1 1539.4 L575.1 1539.5 L577.1 1539.6 L579.1 1539.8 L581.1 1540.0 L583.1 1540.2 L585.0 1540.5 L587.0 1540.8 L589.0 1541.2 L591.0 1541.5 L592.9 1541.9 L594.9 1542.3 L596.9 1542.7 L598.8 1543.2 L600.8 1543.6 L602.7 1544.1 L604.7 1544.5 L606.6 1545.0 L608.5 1545.4 L610.5 1545.9 L612.4 1546.3 L614.4 1546.7 L616.3 1547.0 L618.3 1547.4 L620.3 1547.7 L622.3 1547.9 L624.3 1548.1 L626.4 1548.2 L628.4 1548.3 L630.4 1548.2 L632.4 1548.0 L634.3 1547.7 L636.2 1547.1 L638.1 1546.5 L639.9 1545.6 L641.6 1544.6 L643.3 1543.5 L645.0 1542.4 L646.7 1541.3 L648.4 1540.2 L650.1 1539.2 L651.8 1538.1 L653.5 1537.0 L655.1 1535.9 L656.8 1534.8 L658.5 1533.7 L660.2 1532.7 L661.9 1531.6 L663.6 1530.6 L665.4 1529.7 L667.2 1528.9 L669.1 1528.1 L671.0 1527.4 L672.9 1526.9 L674.8 1526.4 L676.8 1526.0 L678.8 1525.7 L680.8 1525.5 L682.8 1525.4 L684.8 1525.5 L686.7 1525.7 L688.7 1525.9 L690.7 1526.3 L692.6 1526.8 L694.5 1527.4 L696.4 1528.0 L698.4 1528.6 L700.3 1529.1 L702.2 1529.7 L704.2 1530.1 L706.2 1530.4 L708.1 1530.7 L710.1 1530.9 L712.1 1531.0 L714.1 1531.1 L716.1 1531.1 L718.1 1531.1 L720.2 1531.0 L722.2 1531.0 L724.2 1530.9 L726.2 1530.8 L728.2 1530.7 L730.1 1530.5 L732.1 1530.4 L734.1 1530.3 L736.1 1530.2 L738.1 1530.1 L740.1 1529.9 L742.1 1529.8 L744.1 1529.7 L746.1 1529.7 L748.1 1529.6 L750.1 1529.5 L752.1 1529.5 L754.1 1529.5 L756.1 1529.4 L758.1 1529.4 L760.1 1529.4 L762.1 1529.5 L764.1 1529.5 L766.1 1529.6 L768.1 1529.6 L770.1 1529.7 L772.1 1529.8 L774.1 1529.9 L776.1 1530.1 L778.1 1530.3 L780.1 1530.6 L782.0 1530.9 L784.0 1531.4 L785.9 1531.9 L787.8 1532.6 L789.7 1533.2 L791.6 1534.0 L793.5 1534.7 L795.3 1535.5 L797.1 1536.4 L798.8 1537.3 L800.6 1538.2 L802.4 1539.1 L804.1 1540.1 L805.9 1541.1 L807.6 1542.1 L809.4 1543.1 L811.1 1544.1 L812.9 1545.0 L814.7 1545.9 L816.5 1546.7 L818.4 1547.4 L820.3 1548.1 L822.2 1548.6 L824.1 1548.9 L826.1 1549.2 L828.1 1549.3 L830.1 1549.3 L832.1 1549.1 L834.1 1548.9 L836.1 1548.5 L838.1 1548.0 L840.0 1547.4 L841.9 1546.6 L843.7 1545.7 L845.4 1544.7 L847.0 1543.6 L848.6 1542.4 L850.1 1541.1 L851.6 1539.8 L853.0 1538.4 L854.4 1536.9 L855.7 1535.4 L857.1 1533.9 L858.4 1532.4 L859.7 1530.8 L861.0 1529.3 L862.3 1527.8 L863.6 1526.3 L864.9 1524.8 L866.2 1523.2 L867.5 1521.7 L868.7 1520.2 L870.0 1518.6 L871.2 1517.0 L872.4 1515.4 L873.6 1513.8 L874.8 1512.2 L875.9 1510.6 L877.1 1509.0 L878.3 1507.3 L879.5 1505.7 L880.7 1504.1 L882.0 1502.6 L883.2 1501.0 L884.5 1499.5 L885.8 1498.0 L887.2 1496.5 L888.5 1495.0 L889.8 1493.5 L891.1 1492.0 L892.4 1490.4 L893.7 1488.9 L895.0 1487.4 L896.3 1485.9 L897.5 1484.3 L898.8 1482.8 L900.1 1481.3 L901.4 1479.7 L902.7 1478.2 L903.9 1476.6 L905.2 1475.1 L906.5 1473.6 L907.8 1472.0 L909.1 1470.5 L910.4 1469.0 L911.7 1467.5 L913.1 1466.0 L914.4 1464.5 L915.7 1463.0 L917.1 1461.6 L918.5 1460.1 L919.9 1458.7 L921.3 1457.3 L922.7 1455.8 L924.1 1454.4 L925.5 1453.0 L926.9 1451.6 L928.3 1450.2 L929.7 1448.8 L931.2 1447.4 L932.6 1446.0 L934.0 1444.6 L935.5 1443.2 L936.9 1441.8 L938.3 1440.4 L939.8 1439.0 L941.2 1437.6 L942.7 1436.2 L944.1 1434.8 L945.6 1433.4 L947.0 1432.1 L948.5 1430.7 L950.0 1429.4 L951.6 1428.1 L953.1 1426.9 L954.7 1425.7 L956.3 1424.4 L957.9 1423.3 L959.5 1422.1 L961.2 1421.1 L962.9 1420.0 L964.6 1419.0 L966.4 1418.0 L968.2 1417.1 L970.0 1416.3 L971.9 1415.5 L973.8 1414.8 L975.7 1414.1 L977.6 1413.5 L979.5 1413.1 L981.5 1412.7 L983.4 1412.3 L985.4 1411.9 L987.3 1411.6 L989.3 1411.2 L991.3 1410.9 L993.3 1410.6 L995.3 1410.4 L997.3 1410.3 L999.3 1410.2 L1001.3 1410.3 L1003.2 1410.6 L1005.2 1411.0 L1007.1 1411.5 L1009.0 1412.2 L1010.9 1413.0 L1012.7 1414.0 L1014.4 1415.0 L1016.1 1416.2 L1017.6 1417.4 L1019.1 1418.7 L1020.5 1420.2 L1021.8 1421.6 L1023.1 1423.1 L1024.4 1424.6 L1025.7 1426.2 L1027.0 1427.7 L1028.4 1429.2 L1029.6 1430.8 L1030.9 1432.3 L1032.1 1433.9 L1033.3 1435.5 L1034.4 1437.2 L1035.5 1438.8 L1036.6 1440.5 L1037.6 1442.3 L1038.6 1444.0 L1039.6 1445.7 L1040.6 1447.5 L1041.5 1449.2 L1042.5 1451.0 L1043.5 1452.7 L1044.5 1454.5 L1045.6 1456.2 L1046.6 1457.9 L1047.7 1459.5 L1048.8 1461.2 L1050.0 1462.9 L1051.1 1464.5 L1052.2 1466.1 L1053.4 1467.8 L1054.5 1469.4 L1055.6 1471.1 L1056.6 1472.8 L1057.7 1474.5 L1058.7 1476.2 L1059.7 1478.0 L1060.7 1479.8 L1061.7 1481.5 L1062.7 1483.2 L1063.8 1484.9 L1065.0 1486.5 L1066.2 1488.1 L1067.4 1489.6 L1068.7 1491.1 L1070.0 1492.6 L1071.3 1494.1 L1072.7 1495.5 L1074.0 1497.0 L1075.4 1498.5 L1076.9 1500.0 L1078.3 1501.5 L1079.8 1502.9 L1081.3 1504.2 L1082.9 1505.5 L1084.5 1506.5 L1086.2 1507.5 L1088.0 1508.2 L1089.9 1508.8 L1091.8 1509.2 L1093.8 1509.5 L1095.8 1509.6 L1097.9 1509.7 L1099.9 1509.7 L1101.9 1509.6 L1104.0 1509.5 L1106.0 1509.4 L1108.0 1509.3 L1110.0 1509.2 L1112.0 1509.0 L1114.0 1508.9 L1115.9 1508.8 L1117.9 1508.7 L1119.9 1508.6 L1121.8 1508.6 L1123.8 1508.6 L1125.8 1508.6 L1127.8 1508.7 L1129.8 1508.8 L1131.8 1509.0 L1133.8 1509.2 L1135.9 1509.4 L1137.9 1509.5 L1139.9 1509.7 L1141.9 1509.8 L1143.9 1509.9 L1145.9 1509.8 L1147.9 1509.8 L1149.9 1509.6 L1151.8 1509.3 L1153.8 1508.9 L1155.7 1508.5 L1157.6 1507.9 L1159.5 1507.3 L1161.4 1506.7 L1163.3 1506.0 L1165.2 1505.3 L1167.1 1504.5 L1168.9 1503.7 L1170.8 1503.0 L1172.7 1502.2 L1174.5 1501.4 L1176.4 1500.7 L1178.3 1500.0 L1180.2 1499.4 L1182.1 1498.7 L1184.0 1498.1 L1185.9 1497.5 L1187.8 1497.0 L1189.7 1496.4 L1191.6 1495.9 L1193.5 1495.4 L1195.5 1495.0 L1197.4 1494.5 L1199.4 1494.1 L1201.3 1493.6 L1203.3 1493.1 L1205.2 1492.6 L1207.1 1492.0 L1209.0 1491.4 L1210.9 1490.7 L1212.7 1489.9 L1214.6 1489.0 L1216.3 1488.0 L1218.0 1487.0 L1219.7 1485.9 L1221.3 1484.7 L1222.8 1483.4 L1224.3 1482.1 L1225.7 1480.6 L1227.1 1479.2 L1228.4 1477.7 L1229.7 1476.2 L1231.1 1474.7 L1232.5 1473.3 L1233.9 1471.8 L1235.3 1470.4 L1236.6 1468.9 L1238.0 1467.5 L1239.3 1466.0 L1240.7 1464.6 L1242.1 1463.2 L1243.6 1461.8 L1245.1 1460.6 L1246.7 1459.4 L1248.5 1458.3 L1250.3 1457.4 L1252.2 1456.6 L1254.1 1456.0 L1256.1 1455.6 L1258.1 1455.4 L1260.0 1455.5 L1261.9 1455.9 L1263.8 1456.5 L1265.7 1457.3 L1267.4 1458.3 L1269.2 1459.4 L1270.9 1460.5 L1272.5 1461.7 L1274.1 1462.9 L1275.6 1464.2 L1277.2 1465.4 L1278.8 1466.6 L1280.4 1467.8 L1282.0 1469.0 L1283.6 1470.1 L1285.3 1471.2 L1287.0 1472.3 L1288.7 1473.3 L1290.5 1474.2 L1292.4 1475.1 L1294.2 1475.9 L1296.1 1476.5 L1298.0 1477.1 L1300.0 1477.5 L1301.9 1477.7 L1303.9 1477.7 L1305.9 1477.7 L1307.9 1477.5 L1309.9 1477.2 L1311.9 1477.0 L1313.9 1476.6 L1315.9 1476.3 L1317.9 1476.0 L1319.9 1475.8 L1321.9 1475.6 L1323.9 1475.5 L1325.9 1475.4 L1327.9 1475.4 L1329.9 1475.5 L1331.9 1475.7 L1333.8 1475.9 L1335.8 1476.2 L1337.7 1476.7 L1339.6 1477.2 L1341.5 1477.8 L1343.4 1478.5 L1345.3 1479.2 L1347.1 1480.1 L1348.9 1481.0 L1350.7 1481.9 L1352.4 1483.0 L1354.1 1484.1 L1355.8 1485.2 L1357.4 1486.4 L1359.1 1487.6 L1360.7 1488.7 L1362.4 1489.8 L1364.1 1490.9 L1365.8 1491.8 L1367.6 1492.7 L1369.4 1493.5 L1371.2 1494.1 L1373.2 1494.5 L1375.1 1494.9 L1377.1 1495.1 L1379.1 1495.3 L1381.1 1495.3 L1383.2 1495.3 L1385.2 1495.1 L1387.2 1494.9 L1389.2 1494.7 L1391.2 1494.4 L1393.2 1494.0 L1395.1 1493.6 L1397.0 1493.2 L1399.0 1492.8 L1400.9 1492.4 L1402.9 1492.0 L1404.9 1491.7 L1406.8 1491.3 L1408.8 1490.9 L1410.8 1490.5 L1412.7 1490.1 L1414.7 1489.6 L1416.7 1489.2 L1418.6 1488.8 L1420.6 1488.5 L1422.5 1488.2 L1424.5 1488.0 L1426.5 1487.9 L1428.5 1487.8 L1430.5 1487.7 L1432.5 1487.7 L1434.6 1487.7 L1436.6 1487.7 L1438.6 1487.7 L1440.6 1487.7 L1442.6 1487.8 L1444.5 1488.1 L1446.5 1488.4 L1448.4 1488.9 L1450.4 1489.4 L1452.3 1490.0 L1454.2 1490.6 L1456.1 1491.3 L1458.0 1492.0 L1459.9 1492.6 L1461.8 1493.3 L1463.7 1493.9 L1465.6 1494.5 L1467.5 1495.1 L1469.4 1495.6 L1471.3 1496.1 L1473.3 1496.5 L1475.3 1496.9 L1477.3 1497.1 L1479.3 1497.3 L1481.3 1497.4 L1483.3 1497.4 L1485.3 1497.3 L1487.3 1497.0 L1489.2 1496.7 L1491.1 1496.2 L1493.1 1495.6 L1495.0 1494.9 L1496.8 1494.2 L1498.7 1493.4 L1500.6 1492.7 L1502.4 1491.9 L1504.3 1491.2 L1506.1 1490.5 L1508.0 1489.7 L1509.8 1488.9 L1511.7 1488.1 L1513.5 1487.3 L1515.4 1486.6 L1517.3 1486.1 L1519.3 1485.7 L1521.3 1485.6 L1523.3 1485.5 L1525.3 1485.5 L1527.3 1485.5 L1529.3 1485.6 L1531.3 1485.8 L1533.2 1486.2 L1535.1 1486.8 L1537.0 1487.5 L1538.9 1488.1 L1540.8 1488.8 L1542.7 1489.5 L1544.6 1490.3 L1546.4 1491.0 L1548.3 1491.7 L1550.2 1492.3 L1552.1 1493.0 L1553.9 1493.7 L1555.8 1494.4 L1557.7 1495.0 L1559.7 1495.5 L1561.6 1496.0 L1563.6 1496.3 L1565.6 1496.6 L1567.5 1497.0 L1569.5 1497.4 L1571.4 1497.8 L1573.4 1498.4 L1575.3 1499.0 L1577.1 1499.6 L1579.0 1500.4 L1580.8 1501.1 L1582.7 1501.9 L1584.5 1502.7 L1586.4 1503.5 L1588.2 1504.4 L1590.0 1505.2 L1591.9 1506.0 L1593.7 1506.8 L1595.6 1507.5 L1597.5 1508.2 L1599.4 1508.9 L1601.3 1509.5 L1603.2 1510.0 L1605.1 1510.5 L1607.1 1510.9 L1609.0 1511.3 L1611.0 1511.5 L1613.0 1511.8 L1615.0 1511.9 L1617.0 1512.0 L1619.0 1512.0 L1621.0 1512.0 L1623.0 1512.0 L1625.0 1511.9 L1627.0 1511.7 L1629.0 1511.6 L1631.0 1511.5 L1633.0 1511.5 L1635.0 1511.6 L1637.0 1511.8 L1639.0 1512.1 L1641.0 1512.6 L1642.9 1513.2 L1644.7 1513.9 L1646.5 1514.6 L1648.4 1515.4 L1650.2 1516.3 L1652.1 1517.0 L1653.9 1517.8 L1655.8 1518.5 L1657.7 1519.1 L1659.7 1519.7 L1661.6 1520.1 L1663.6 1520.4 L1665.6 1520.6 L1667.6 1520.7 L1669.6 1520.6 L1671.6 1520.3 L1673.5 1520.0 L1675.4 1519.5 L1677.3 1518.8 L1679.2 1518.0 L1681.0 1517.1 L1682.7 1516.2 L1684.5 1515.2 L1686.3 1514.2 L1688.0 1513.2 L1689.8 1512.3 L1691.6 1511.5 L1693.5 1510.7 L1695.4 1510.1 L1697.3 1509.6 L1699.2 1509.1 L1701.2 1508.8 L1703.1 1508.5 L1705.1 1508.3 L1707.2 1508.1 L1709.2 1508.0 L1711.2 1508.0 L1713.2 1508.1 L1715.3 1508.3 L1717.3 1508.6 L1719.2 1509.0 L1721.1 1509.5 L1723.0 1510.1 L1724.9 1510.8 L1726.7 1511.5 L1728.5 1512.4 L1730.3 1513.2 L1732.1 1514.1 L1733.9 1515.0 L1735.7 1515.9 L1737.5 1516.7 L1739.4 1517.5 L1741.3 1518.2 L1743.2 1518.7 L1745.2 1519.2 L1747.2 1519.6 L1749.2 1519.8 L1751.2 1519.9 L1753.2 1519.9 L1755.2 1519.6 L1757.1 1519.2 L1759.0 1518.7 L1760.8 1517.9 L1762.6 1517.1 L1764.3 1516.1 L1766.0 1514.9 L1767.6 1513.8 L1769.2 1512.5 L1770.8 1511.2 L1772.3 1509.9 L1773.8 1508.5 L1775.3 1507.2 L1776.8 1505.8 L1778.2 1504.5 L1779.7 1503.1 L1781.2 1501.8 L1782.7 1500.5 L1784.3 1499.3 L1785.8 1498.1 L1787.5 1496.9 L1789.2 1495.8 L1790.9 1494.9 L1792.7 1494.0 L1794.6 1493.3 L1796.6 1492.9 L1798.6 1492.6 L1800.6 1492.6 L1802.6 1492.9 L1804.5 1493.5 L1806.3 1494.4 L1808.0 1495.5 L1809.6 1496.7 L1811.2 1498.0 L1812.7 1499.3 L1814.2 1500.6 L1815.6 1502.0 L1817.0 1503.4 L1818.4 1504.8 L1819.8 1506.3 L1821.2 1507.7 L1822.6 1509.1 L1824.1 1510.5 L1825.5 1511.9 L1826.9 1513.3 L1828.4 1514.7 L1829.9 1516.1 L1831.4 1517.4 L1832.9 1518.7 L1834.5 1519.9 L1836.1 1521.1 L1837.7 1522.3 L1839.4 1523.4 L1841.0 1524.4 L1842.8 1525.4 L1844.5 1526.4 L1846.3 1527.3 L1848.1 1528.2 L1850.0 1529.0 L1851.8 1529.7 L1853.7 1530.5 L1855.6 1531.1 L1857.5 1531.8 L1859.3 1532.5 L1861.1 1533.3 L1862.9 1534.2 L1864.7 1535.1 L1866.5 1536.1 L1868.3 1536.9 L1870.2 1537.6 L1872.1 1538.3 L1874.0 1538.8 L1876.0 1539.2 L1878.0 1539.5 L1880.0 1539.6 L1882.0 1539.6 L1884.0 1539.5 L1885.9 1539.2 L1887.9 1538.8 L1889.8 1538.3 L1891.7 1537.7 L1893.6 1537.1 L1895.5 1536.3 L1897.3 1535.5 L1899.2 1534.6 L1901.0 1533.8 L1902.8 1532.9 L1904.6 1532.1 L1906.5 1531.3 L1908.3 1530.6 L1910.2 1530.1 L1912.2 1529.6 L1914.2 1529.4 L1916.2 1529.2 L1918.2 1529.3 L1920.2 1529.4 L1922.2 1529.8 L1924.1 1530.3 L1926.0 1530.9 L1927.9 1531.6 L1929.7 1532.5 L1931.5 1533.4 L1933.2 1534.3 L1935.0 1535.2 L1936.8 1536.2 L1938.6 1537.1 L1940.4 1537.9 L1942.3 1538.6 L1944.2 1539.2 L1946.1 1539.8 L1948.0 1540.3 L1950.0 1540.9 L1951.9 1541.4 L1953.9 1541.7 L1955.9 1541.9 L1957.8 1541.8 L1959.8 1541.4 L1961.8 1540.9 L1963.7 1540.3 L1965.6 1539.7 L1967.5 1539.1 L1969.4 1538.5 L1971.3 1537.8 L1973.1 1537.0 L1975.0 1536.3 L1976.9 1535.5 L1978.7 1534.8 L1980.6 1534.1 L1982.5 1533.5 L1984.4 1533.1 L1986.4 1532.7 L1988.4 1532.5 L1990.3 1532.3 L1992.3 1532.2 L1994.4 1532.1 L1996.4 1532.0 L1998.4 1531.9 L2000.4 1531.8 L2002.4 1531.7 L2004.4 1531.5 L2006.4 1531.2 L2008.4 1530.9 L2010.3 1530.6 L2012.3 1530.2 L2014.2 1529.8 L2016.2 1529.3 L2018.1 1528.8 L2020.0 1528.3 L2022.0 1527.7 L2023.9 1527.1 L2025.8 1526.5 L2027.7 1525.9 L2029.6 1525.2 L2031.5 1524.6 L2033.4 1524.0 L2035.3 1523.4 L2037.2 1522.9 L2039.2 1522.4 L2041.1 1522.0 L2043.1 1521.8 L2045.1 1521.8 L2047.1 1521.9 L2049.1 1522.0 L2051.1 1522.2 L2053.1 1522.4 L2055.1 1522.7 L2057.1 1523.0 L2059.0 1523.4 L2060.9 1523.9 L2062.9 1524.5 L2064.8 1525.1 L2066.7 1525.7 L2068.6 1526.4 L2070.5 1526.9 L2072.4 1527.5 L2074.4 1527.9 L2076.3 1528.3 L2078.3 1528.7 L2080.3 1529.0 L2082.3 1529.3 L2084.2 1529.7 L2086.2 1530.0 L2088.2 1530.3 L2090.2 1530.6 L2092.1 1531.0 L2094.1 1531.3 L2096.1 1531.6 L2098.0 1531.8 L2100.0 1531.8 L2102.0 1531.8 L2104.0 1531.7 L2106.1 1531.6 L2108.1 1531.6 L2110.1 1531.7 L2112.0 1532.0 L2114.0 1532.3 L2116.0 1532.8 L2117.9 1533.2 L2119.9 1533.7 L2121.8 1534.2 L2123.8 1534.6 L2125.7 1535.0 L2127.7 1535.2 L2129.7 1535.4 L2131.7 1535.5 L2133.7 1535.6 L2135.7 1535.7 L2137.7 1535.8 L2139.7 1535.8 L2141.7 1535.9 L2143.7 1535.9 L2145.7 1535.9 L2147.7 1535.9 L2149.7 1535.8 L2151.7 1535.8 L2153.7 1535.7 L2155.7 1535.7 L2157.7 1535.8 L2159.7 1535.9 L2161.7 1536.2 L2163.6 1536.6 L2165.6 1537.1 L2167.5 1537.7 L2169.4 1538.5" stroke="#CC6600"/>
<path d="M290.0 1546.3 L292.0 1545.8 L294.0 1545.5 L296.0 1545.1 L297.9 1544.9 L299.9 1544.7 L301.9 1544.5 L303.9 1544.4 L305.9 1544.3 L307.9 1544.3 L309.9 1544.3 L311.9 1544.4 L313.9 1544.5 L315.9 1544.6 L317.9 1544.7 L319.9 1544.8 L321.9 1545.0 L323.9 1545.2 L325.9 1545.4 L327.8 1545.6 L329.8 1545.8 L331.8 1546.0 L333.8 1546.2 L335.8 1546.4 L337.8 1546.5 L339.8 1546.7 L341.8 1546.8 L343.8 1547.0 L345.8 1547.1 L347.8 1547.2 L349.8 1547.2 L351.8 1547.3 L353.8 1547.3 L355.8 1547.3 L357.8 1547.3 L359.8 1547.3 L361.8 1547.2 L363.8 1547.1 L365.8 1547.0 L367.8 1546.9 L369.8 1546.7 L371.8 1546.6 L373.8 1546.5 L375.8 1546.4 L377.8 1546.2 L379.8 1546.2 L381.8 1546.1 L383.8 1546.0 L385.8 1546.0 L387.8 1546.1 L389.8 1546.1 L391.8 1546.2 L393.8 1546.3 L395.8 1546.5 L397.8 1546.6 L399.8 1546.8 L401.8 1547.0 L403.8 1547.1 L405.8 1547.3 L407.8 1547.5 L409.8 1547.7 L411.8 1547.9 L413.8 1548.0 L415.8 1548.2 L417.8 1548.3 L419.8 1548.4 L421.8 1548.5 L423.8 1548.6 L425.8 1548.6 L427.8 1548.6 L429.8 1548.6 L431.8 1548.5 L433.7 1548.4 L435.7 1548.2 L437.7 1548.0 L439.7 1547.7 L441.7 1547.4 L443.7 1547.1 L445.7 1546.8 L447.7 1546.5 L449.6 1546.2 L451.6 1545.9 L453.6 1545.6 L455.6 1545.4 L457.6 1545.1 L459.6 1544.9 L461.6 1544.8 L463.6 1544.7 L465.6 1544.6 L467.6 1544.5 L469.6 1544.5 L471.6 1544.4 L473.6 1544.4 L475.6 1544.3 L477.6 1544.3 L479.6 1544.2 L481.6 1544.1 L483.6 1544.0 L485.6 1543.8 L487.6 1543.6 L489.6 1543.4 L491.6 1543.2 L493.6 1543.0 L495.5 1542.7 L497.5 1542.4 L499.5 1542.1 L501.5 1541.8 L503.5 1541.4 L505.4 1541.1 L507.4 1540.7 L509.4 1540.3 L511.3 1539.9 L513.3 1539.5 L515.2 1539.0 L517.2 1538.6 L519.1 1538.1 L521.1 1537.7 L523.0 1537.2 L524.9 1536.7 L526.9 1536.2 L528.8 1535.7 L530.7 1535.2 L532.7 1534.7 L534.6 1534.2 L536.6 1533.7 L538.5 1533.2 L540.4 1532.6 L542.4 1532.1 L544.3 1531.6 L546.2 1531.0 L548.2 1530.4 L550.1 1529.9 L552.0 1529.3 L553.9 1528.7 L555.8 1528.1 L557.7 1527.5 L559.6 1526.8 L561.5 1526.2 L563.4 1525.5 L565.3 1524.9 L567.2 1524.2 L569.1 1523.5 L570.9 1522.7 L572.8 1522.0 L574.6 1521.3 L576.5 1520.5 L578.3 1519.7 L580.1 1518.9 L581.9 1518.0 L583.7 1517.2 L585.5 1516.3 L587.3 1515.4 L589.1 1514.5 L590.9 1513.6 L592.6 1512.7 L594.4 1511.7 L596.1 1510.7 L597.9 1509.8 L599.6 1508.8 L601.3 1507.8 L603.0 1506.8 L604.8 1505.7 L606.5 1504.7 L608.2 1503.6 L609.9 1502.6 L611.6 1501.5 L613.3 1500.5 L615.0 1499.4 L616.7 1498.3 L618.3 1497.2 L620.0 1496.1 L621.7 1495.0 L623.4 1493.9 L625.1 1492.8 L626.7 1491.7 L628.4 1490.6 L630.0 1489.5 L631.7 1488.3 L633.3 1487.2 L635.0 1486.0 L636.6 1484.8 L638.2 1483.6 L639.8 1482.4 L641.4 1481.2 L643.0 1480.0 L644.5 1478.7 L646.1 1477.5 L647.6 1476.2 L649.2 1474.9 L650.7 1473.6 L652.2 1472.3 L653.7 1471.0 L655.2 1469.7 L656.7 1468.3 L658.2 1467.0 L659.6 1465.6 L661.1 1464.3 L662.5 1462.9 L664.0 1461.5 L665.4 1460.1 L666.8 1458.7 L668.2 1457.2 L669.6 1455.8 L671.0 1454.4 L672.4 1452.9 L673.7 1451.4 L675.1 1450.0 L676.5 1448.5 L677.8 1447.0 L679.2 1445.5 L680.5 1444.0 L681.8 1442.5 L683.1 1441.0 L684.4 1439.5 L685.7 1438.0 L687.0 1436.5 L688.3 1434.9 L689.6 1433.4 L690.9 1431.8 L692.1 1430.3 L693.4 1428.7 L694.7 1427.2 L695.9 1425.6 L697.2 1424.0 L698.4 1422.5 L699.6 1420.9 L700.8 1419.3 L702.1 1417.7 L703.3 1416.1 L704.5 1414.5 L705.7 1412.9 L706.9 1411.3 L708.0 1409.7 L709.2 1408.1 L710.4 1406.5 L711.6 1404.9 L712.7 1403.2 L713.9 1401.6 L715.0 1400.0 L716.2 1398.3 L717.3 1396.7 L718.5 1395.0 L719.6 1393.4 L720.7 1391.7 L721.8 1390.1 L723.0 1388.4 L724.1 1386.8 L725.2 1385.1 L726.3 1383.4 L727.4 1381.7 L728.5 1380.1 L729.6 1378.4 L730.6 1376.7 L731.7 1375.0 L732.8 1373.3 L733.9 1371.6 L734.9 1369.9 L736.0 1368.2 L737.0 1366.5 L738.1 1364.8 L739.1 1363.1 L740.2 1361.4 L741.2 1359.7 L742.2 1358.0 L743.3 1356.3 L744.3 1354.6 L745.3 1352.8 L746.4 1351.1 L747.4 1349.4 L748.4 1347.7 L749.4 1345.9 L750.4 1344.2 L751.4 1342.5 L752.4 1340.7 L753.4 1339.0 L754.4 1337.2 L755.4 1335.5 L756.4 1333.8 L757.3 1332.0 L758.3 1330.3 L759.3 1328.5 L760.3 1326.8 L761.2 1325.0 L762.2 1323.3 L763.2 1321.5 L764.1 1319.7 L765.1 1318.0 L766.1 1316.2 L767.0 1314.5 L768.0 1312.7 L768.9 1310.9 L769.9 1309.2 L770.8 1307.4 L771.8 1305.7 L772.7 1303.9 L773.7 1302.1 L774.6 1300.4 L775.5 1298.6 L776.5 1296.8 L777.4 1295.1 L778.3 1293.3 L779.3 1291.5 L780.2 1289.7 L781.1 1288.0 L782.1 1286.2 L783.0 1284.4 L783.9 1282.7 L784.8 1280.9 L785.8 1279.1 L786.7 1277.3 L787.6 1275.6 L788.5 1273.8 L789.5 1272.0 L790.4 1270.2 L791.3 1268.5 L792.2 1266.7 L793.2 1264.9 L794.1 1263.1 L795.0 1261.4 L795.9 1259.6 L796.8 1257.8 L797.8 1256.0 L798.7 1254.3 L799.6 1252.5 L800.5 1250.7 L801.5 1249.0 L802.4 1247.2 L803.3 1245.4 L804.3 1243.6 L805.2 1241.9 L806.1 1240.1 L807.1 1238.3 L808.0 1236.6 L808.9 1234.8 L809.9 1233.0 L810.8 1231.2 L811.7 1229.5 L812.7 1227.7 L813.6 1225.9 L814.5 1224.2 L815.5 1222.4 L816.4 1220.6 L817.4 1218.9 L818.3 1217.1 L819.2 1215.3 L820.2 1213.6 L821.1 1211.8 L822.0 1210.0 L823.0 1208.2 L823.9 1206.5 L824.8 1204.7 L825.8 1202.9 L826.7 1201.1 L827.6 1199.4 L828.5 1197.6 L829.5 1195.8 L830.4 1194.0 L831.3 1192.3 L832.2 1190.5 L833.1 1188.7 L834.0 1186.9 L835.0 1185.1 L835.9 1183.4 L836.8 1181.6 L837.7 1179.8 L838.6 1178.0 L839.5 1176.2 L840.4 1174.4 L841.3 1172.6 L842.1 1170.8 L843.0 1169.0 L843.9 1167.2 L844.8 1165.4 L845.7 1163.7 L846.6 1161.9 L847.5 1160.1 L848.4 1158.3 L849.3 1156.5 L850.2 1154.7 L851.0 1152.9 L851.9 1151.1 L852.8 1149.3 L853.7 1147.5 L854.7 1145.8 L855.6 1144.0 L856.5 1142.2 L857.4 1140.4 L858.3 1138.6 L859.2 1136.9 L860.2 1135.1 L861.1 1133.3 L862.0 1131.6 L863.0 1129.8 L864.0 1128.0 L864.9 1126.3 L865.9 1124.5 L866.9 1122.8 L867.8 1121.1 L868.8 1119.3 L869.8 1117.6 L870.9 1115.9 L871.9 1114.1 L872.9 1112.4 L873.9 1110.7 L875.0 1109.0 L876.0 1107.3 L877.1 1105.6 L878.1 1103.9 L879.1 1102.2 L880.2 1100.4 L881.2 1098.7 L882.2 1097.0 L883.2 1095.3 L884.2 1093.5 L885.2 1091.8 L886.2 1090.1 L887.2 1088.3 L888.2 1086.6 L889.2 1084.8 L890.2 1083.1 L891.3 1081.4 L892.3 1079.7 L893.4 1078.0 L894.6 1076.4 L895.7 1074.8 L896.9 1073.1 L898.2 1071.6 L899.5 1070.0 L900.8 1068.5 L902.2 1067.0 L903.6 1065.6 L905.0 1064.2 L906.5 1062.9 L908.1 1061.6 L909.7 1060.3 L911.3 1059.1 L912.9 1058.0 L914.7 1056.9 L916.4 1055.9 L918.2 1054.9 L920.0 1054.0 L921.8 1053.2 L923.7 1052.4 L925.6 1051.7 L927.5 1051.1 L929.4 1050.5 L931.4 1050.0 L933.3 1049.6 L935.3 1049.2 L937.3 1049.0 L939.3 1048.8 L941.3 1048.6 L943.3 1048.6 L945.3 1048.6 L947.3 1048.6 L949.4 1048.6 L951.4 1048.7 L953.4 1048.8 L955.4 1048.8 L957.4 1048.9 L959.4 1048.9 L961.4 1048.9 L963.4 1048.8 L965.4 1048.7 L967.3 1048.5 L969.3 1048.3 L971.3 1048.0 L973.2 1047.7 L975.2 1047.3 L977.1 1047.0 L979.1 1046.6 L981.0 1046.1 L983.0 1045.7 L984.9 1045.2 L986.9 1044.8 L988.9 1044.4 L990.8 1043.9 L992.8 1043.5 L994.8 1043.1 L996.8 1042.7 L998.8 1042.3 L1000.8 1042.0 L1002.8 1041.7 L1004.8 1041.4 L1006.8 1041.1 L1008.8 1040.9 L1010.8 1040.7 L1012.8 1040.5 L1014.8 1040.4 L1016.8 1040.4 L1018.8 1040.3 L1020.8 1040.4 L1022.8 1040.4 L1024.8 1040.6 L1026.7 1040.8 L1028.7 1041.0 L1030.7 1041.3 L1032.6 1041.7 L1034.6 1042.2 L1036.5 1042.7 L1038.4 1043.2 L1040.4 1043.9 L1042.3 1044.6 L1044.1 1045.4 L1046.0 1046.2 L1047.8 1047.1 L1049.6 1048.1 L1051.3 1049.1 L1053.0 1050.1 L1054.7 1051.2 L1056.3 1052.4 L1057.9 1053.6 L1059.5 1054.9 L1061.0 1056.2 L1062.5 1057.5 L1064.0 1058.9 L1065.5 1060.2 L1066.9 1061.6 L1068.4 1063.0 L1069.8 1064.4 L1071.3 1065.7 L1072.8 1067.1 L1074.3 1068.4 L1075.8 1069.7 L1077.3 1071.0 L1078.8 1072.3 L1080.4 1073.5 L1082.0 1074.8 L1083.6 1075.9 L1085.2 1077.1 L1086.9 1078.3 L1088.6 1079.4 L1090.2 1080.5 L1091.9 1081.5 L1093.7 1082.6 L1095.4 1083.6 L1097.1 1084.6 L1098.9 1085.6 L1100.7 1086.5 L1102.5 1087.5 L1104.3 1088.3 L1106.1 1089.2 L1107.9 1090.0 L1109.8 1090.8 L1111.6 1091.5 L1113.5 1092.2 L1115.4 1092.8 L1117.3 1093.4 L1119.3 1094.0 L1121.2 1094.5 L1123.1 1094.9 L1125.1 1095.3 L1127.1 1095.6 L1129.1 1095.9 L1131.1 1096.2 L1133.1 1096.4 L1135.1 1096.5 L1137.1 1096.6 L1139.1 1096.7 L1141.1 1096.7 L1143.1 1096.7 L1145.1 1096.6 L1147.1 1096.5 L1149.1 1096.4 L1151.2 1096.3 L1153.2 1096.2 L1155.2 1096.0 L1157.2 1095.9 L1159.2 1095.8 L1161.2 1095.8 L1163.2 1095.7 L1165.2 1095.8 L1167.2 1095.9 L1169.2 1096.0 L1171.1 1096.3 L1173.1 1096.6 L1175.1 1097.0 L1177.1 1097.4 L1179.0 1097.9 L1181.0 1098.5 L1182.9 1099.2 L1184.8 1099.9 L1186.6 1100.6 L1188.5 1101.4 L1190.3 1102.3 L1192.1 1103.2 L1193.8 1104.2 L1195.6 1105.2 L1197.2 1106.2 L1198.9 1107.3 L1200.6 1108.4 L1202.2 1109.6 L1203.8 1110.8 L1205.3 1112.0 L1206.9 1113.3 L1208.4 1114.6 L1209.9 1115.9 L1211.3 1117.3 L1212.8 1118.7 L1214.2 1120.1 L1215.6 1121.5 L1217.0 1123.0 L1218.4 1124.5 L1219.7 1126.0 L1221.1 1127.5 L1222.4 1129.0 L1223.7 1130.5 L1225.0 1132.1 L1226.3 1133.6 L1227.5 1135.2 L1228.8 1136.8 L1230.0 1138.4 L1231.2 1139.9 L1232.5 1141.5 L1233.7 1143.1 L1234.9 1144.8 L1236.0 1146.4 L1237.2 1148.0 L1238.4 1149.6 L1239.5 1151.3 L1240.7 1152.9 L1241.8 1154.5 L1243.0 1156.2 L1244.1 1157.8 L1245.2 1159.5 L1246.3 1161.2 L1247.4 1162.8 L1248.5 1164.5 L1249.6 1166.2 L1250.7 1167.8 L1251.8 1169.5 L1252.9 1171.2 L1254.0 1172.9 L1255.0 1174.6 L1256.1 1176.2 L1257.2 1177.9 L1258.3 1179.6 L1259.3 1181.3 L1260.4 1183.0 L1261.5 1184.7 L1262.6 1186.4 L1263.6 1188.0 L1264.7 1189.7 L1265.8 1191.4 L1266.8 1193.1 L1267.9 1194.8 L1269.0 1196.5 L1270.0 1198.2 L1271.1 1199.9 L1272.2 1201.6 L1273.2 1203.2 L1274.3 1204.9 L1275.4 1206.6 L1276.4 1208.3 L1277.5 1210.0 L1278.6 1211.7 L1279.7 1213.4 L1280.8 1215.0 L1281.9 1216.7 L1282.9 1218.4 L1284.0 1220.1 L1285.1 1221.8 L1286.2 1223.4 L1287.3 1225.1 L1288.4 1226.8 L1289.5 1228.4 L1290.7 1230.1 L1291.8 1231.8 L1292.9 1233.4 L1294.0 1235.1 L1295.2 1236.7 L1296.3 1238.4 L1297.5 1240.0 L1298.6 1241.7 L1299.8 1243.3 L1300.9 1244.9 L1302.1 1246.6 L1303.3 1248.2 L1304.4 1249.8 L1305.6 1251.4 L1306.8 1253.1 L1308.0 1254.7 L1309.2 1256.3 L1310.4 1257.9 L1311.6 1259.5 L1312.9 1261.1 L1314.1 1262.6 L1315.3 1264.2 L1316.6 1265.8 L1317.8 1267.4 L1319.1 1268.9 L1320.4 1270.5 L1321.6 1272.0 L1322.9 1273.6 L1324.2 1275.1 L1325.5 1276.6 L1326.8 1278.1 L1328.1 1279.6 L1329.4 1281.1 L1330.8 1282.6 L1332.1 1284.1 L1333.5 1285.6 L1334.8 1287.1 L1336.2 1288.5 L1337.6 1290.0 L1338.9 1291.4 L1340.3 1292.9 L1341.7 1294.3 L1343.1 1295.7 L1344.6 1297.1 L1346.0 1298.5 L1347.4 1299.9 L1348.9 1301.3 L1350.3 1302.7 L1351.8 1304.0 L1353.2 1305.4 L1354.7 1306.7 L1356.2 1308.0 L1357.7 1309.4 L1359.2 1310.7 L1360.7 1312.0 L1362.2 1313.3 L1363.8 1314.6 L1365.3 1315.9 L1366.8 1317.1 L1368.4 1318.4 L1370.0 1319.6 L1371.5 1320.9 L1373.1 1322.1 L1374.7 1323.3 L1376.3 1324.6 L1377.9 1325.8 L1379.5 1327.0 L1381.1 1328.2 L1382.7 1329.3 L1384.3 1330.5 L1385.9 1331.7 L1387.6 1332.8 L1389.2 1334.0 L1390.9 1335.1 L1392.5 1336.3 L1394.2 1337.4 L1395.8 1338.5 L1397.5 1339.6 L1399.2 1340.7 L1400.9 1341.8 L1402.6 1342.8 L1404.3 1343.9 L1406.0 1345.0 L1407.7 1346.0 L1409.4 1347.1 L1411.1 1348.1 L1412.8 1349.1 L1414.6 1350.1 L1416.3 1351.1 L1418.0 1352.1 L1419.8 1353.1 L1421.5 1354.1 L1423.3 1355.1 L1425.1 1356.0 L1426.8 1357.0 L1428.6 1357.9 L1430.4 1358.9 L1432.1 1359.8 L1433.9 1360.7 L1435.7 1361.6 L1437.5 1362.5 L1439.3 1363.4 L1441.1 1364.2 L1442.9 1365.1 L1444.7 1366.0 L1446.5 1366.8 L1448.3 1367.7 L1450.1 1368.5 L1451.9 1369.3 L1453.8 1370.2 L1455.6 1371.0 L1457.4 1371.9 L1459.2 1372.7 L1461.0 1373.5 L1462.8 1374.4 L1464.6 1375.2 L1466.4 1376.1 L1468.3 1376.9 L1470.1 1377.8 L1471.9 1378.6 L1473.7 1379.5 L1475.5 1380.3 L1477.3 1381.2 L1479.1 1382.1 L1480.9 1382.9 L1482.7 1383.8 L1484.5 1384.7 L1486.3 1385.5 L1488.1 1386.4 L1489.9 1387.2 L1491.8 1388.1 L1493.6 1388.9 L1495.4 1389.8 L1497.2 1390.6 L1499.0 1391.5 L1500.8 1392.3 L1502.7 1393.1 L1504.5 1393.9 L1506.3 1394.8 L1508.1 1395.6 L1510.0 1396.4 L1511.8 1397.2 L1513.6 1398.0 L1515.5 1398.8 L1517.3 1399.6 L1519.2 1400.3 L1521.0 1401.1 L1522.8 1401.9 L1524.7 1402.7 L1526.5 1403.5 L1528.3 1404.3 L1530.2 1405.1 L1532.0 1405.9 L1533.8 1406.7 L1535.6 1407.6 L1537.5 1408.4 L1539.3 1409.2 L1541.1 1410.1 L1542.9 1411.0 L1544.7 1411.8 L1546.4 1412.7 L1548.2 1413.7 L1550.0 1414.6 L1551.8 1415.5 L1553.5 1416.5 L1555.3 1417.5 L1557.0 1418.5 L1558.8 1419.5 L1560.5 1420.5 L1562.2 1421.5 L1564.0 1422.5 L1565.7 1423.5 L1567.4 1424.5 L1569.2 1425.4 L1570.9 1426.4 L1572.7 1427.4 L1574.5 1428.3 L1576.2 1429.3 L1578.0 1430.2 L1579.8 1431.1 L1581.6 1432.0 L1583.4 1432.9 L1585.2 1433.7 L1587.0 1434.6 L1588.8 1435.5 L1590.6 1436.3 L1592.4 1437.2 L1594.3 1438.0 L1596.1 1438.8 L1597.9 1439.7 L1599.7 1440.5 L1601.5 1441.3 L1603.4 1442.1 L1605.2 1443.0 L1607.0 1443.8 L1608.8 1444.6 L1610.6 1445.5 L1612.5 1446.3 L1614.3 1447.1 L1616.1 1448.0 L1617.9 1448.8 L1619.7 1449.7 L1621.5 1450.5 L1623.3 1451.4 L1625.1 1452.2 L1626.9 1453.1 L1628.7 1454.0 L1630.5 1454.8 L1632.3 1455.6 L1634.2 1456.5 L1636.0 1457.3 L1637.8 1458.1 L1639.6 1458.9 L1641.5 1459.7 L1643.3 1460.4 L1645.2 1461.2 L1647.1 1461.9 L1649.0 1462.6 L1650.8 1463.3 L1652.7 1463.9 L1654.6 1464.5 L1656.6 1465.2 L1658.5 1465.8 L1660.4 1466.3 L1662.3 1466.9 L1664.3 1467.4 L1666.2 1467.9 L1668.1 1468.4 L1670.1 1468.9 L1672.1 1469.4 L1674.0 1469.8 L1676.0 1470.2 L1678.0 1470.6 L1679.9 1470.9 L1681.9 1471.3 L1683.9 1471.6 L1685.9 1471.9 L1687.8 1472.1 L1689.8 1472.4 L1691.8 1472.6 L1693.8 1472.8 L1695.8 1473.0 L1697.8 1473.2 L1699.8 1473.3 L1701.8 1473.5 L1703.8 1473.6 L1705.8 1473.8 L1707.8 1473.9 L1709.8 1474.0 L1711.7 1474.2 L1713.7 1474.3 L1715.7 1474.5 L1717.7 1474.7 L1719.7 1474.8 L1721.7 1475.0 L1723.7 1475.2 L1725.7 1475.4 L1727.7 1475.6 L1729.7 1475.8 L1731.7 1476.0 L1733.6 1476.3 L1735.6 1476.5 L1737.6 1476.7 L1739.6 1476.9 L1741.6 1477.2 L1743.6 1477.4 L1745.6 1477.7 L1747.5 1478.0 L1749.5 1478.2 L1751.5 1478.5 L1753.5 1478.8 L1755.5 1479.0 L1757.5 1479.3 L1759.4 1479.6 L1761.4 1479.9 L1763.4 1480.2 L1765.4 1480.5 L1767.4 1480.8 L1769.3 1481.1 L1771.3 1481.4 L1773.3 1481.7 L1775.3 1482.0 L1777.2 1482.3 L1779.2 1482.7 L1781.2 1483.0 L1783.2 1483.3 L1785.1 1483.7 L1787.1 1484.0 L1789.1 1484.4 L1791.1 1484.7 L1793.0 1485.1 L1795.0 1485.4 L1797.0 1485.8 L1798.9 1486.2 L1800.9 1486.5 L1802.9 1486.9 L1804.8 1487.2 L1806.8 1487.6 L1808.8 1487.9 L1810.8 1488.3 L1812.7 1488.6 L1814.7 1489.0 L1816.7 1489.3 L1818.7 1489.7 L1820.6 1490.0 L1822.6 1490.3 L1824.6 1490.6 L1826.6 1490.9 L1828.5 1491.2 L1830.5 1491.5 L1832.5 1491.8 L1834.5 1492.1 L1836.5 1492.3 L1838.4 1492.6 L1840.4 1492.8 L1842.4 1493.1 L1844.4 1493.3 L1846.4 1493.6 L1848.3 1493.8 L1850.3 1494.1 L1852.3 1494.3 L1854.3 1494.6 L1856.3 1494.9 L1858.2 1495.2 L1860.2 1495.5 L1862.2 1495.8 L1864.2 1496.2 L1866.1 1496.5 L1868.1 1496.8 L1870.1 1497.2 L1872.0 1497.6 L1874.0 1497.9 L1876.0 1498.3 L1877.9 1498.7 L1879.9 1499.1 L1881.9 1499.5 L1883.8 1499.9 L1885.8 1500.3 L1887.7 1500.7 L1889.7 1501.1 L1891.7 1501.5 L1893.6 1502.0 L1895.6 1502.4 L1897.5 1502.8 L1899.5 1503.2 L1901.5 1503.6 L1903.4 1504.0 L1905.4 1504.5 L1907.3 1504.9 L1909.3 1505.3 L1911.3 1505.7 L1913.2 1506.1 L1915.2 1506.5 L1917.2 1506.9 L1919.1 1507.3 L1921.1 1507.7 L1923.1 1508.0 L1925.0 1508.4 L1927.0 1508.8 L1929.0 1509.1 L1930.9 1509.5 L1932.9 1509.8 L1934.9 1510.1 L1936.9 1510.4 L1938.8 1510.8 L1940.8 1511.1 L1942.8 1511.4 L1944.8 1511.7 L1946.7 1511.9 L1948.7 1512.2 L1950.7 1512.5 L1952.7 1512.8 L1954.7 1513.0 L1956.6 1513.3 L1958.6 1513.5 L1960.6 1513.8 L1962.6 1514.0 L1964.6 1514.2 L1966.6 1514.5 L1968.6 1514.7 L1970.6 1514.9 L1972.5 1515.1 L1974.5 1515.3 L1976.5 1515.5 L1978.5 1515.8 L1980.5 1515.9 L1982.5 1516.1 L1984.5 1516.3 L1986.5 1516.5 L1988.5 1516.7 L1990.5 1516.9 L1992.5 1517.1 L1994.5 1517.2 L1996.5 1517.4 L1998.5 1517.6 L2000.4 1517.7 L2002.4 1517.9 L2004.4 1518.1 L2006.4 1518.2 L2008.4 1518.4 L2010.4 1518.6 L2012.4 1518.7 L2014.4 1518.9 L2016.4 1519.0 L2018.4 1519.2 L2020.4 1519.3 L2022.4 1519.5 L2024.4 1519.6 L2026.4 1519.8 L2028.4 1519.9 L2030.4 1520.1 L2032.4 1520.2 L2034.4 1520.4 L2036.4 1520.6 L2038.4 1520.7 L2040.4 1520.9 L2042.4 1521.0 L2044.4 1521.2 L2046.4 1521.3 L2048.4 1521.5 L2050.4 1521.7 L2052.4 1521.8 L2054.4 1522.0 L2056.4 1522.2 L2058.3 1522.3 L2060.3 1522.5 L2062.3 1522.7 L2064.3 1522.9 L2066.3 1523.1 L2068.3 1523.3 L2070.3 1523.4 L2072.3 1523.6 L2074.3 1523.8 L2076.3 1524.0 L2078.3 1524.2 L2080.3 1524.4 L2082.2 1524.6 L2084.2 1524.8 L2086.2 1525.0 L2088.2 1525.1 L2090.2 1525.3 L2092.2 1525.4 L2094.2 1525.5 L2096.2 1525.6 L2098.2 1525.6 L2100.2 1525.7 L2102.2 1525.7 L2104.2 1525.7 L2106.2 1525.7 L2108.2 1525.7 L2110.2 1525.7 L2112.2 1525.8 L2114.2 1525.9 L2116.2 1526.0 L2118.2 1526.2 L2120.1 1526.4 L2122.1 1526.7 L2124.0 1527.0 L2126.0 1527.3 L2127.9 1527.6 L2129.9 1527.9 L2131.9 1528.1 L2133.8 1528.3 L2135.8 1528.5 L2137.8 1528.6 L2139.8 1528.7 L2141.8 1528.8 L2143.8 1529.0 L2145.8 1529.1 L2147.8 1529.2 L2149.8 1529.4 L2151.8 1529.6 L2153.8 1529.8 L2155.7 1530.1 L2157.7 1530.4 L2159.7 1530.7 L2161.7 1531.1 L2163.6 1531.6 L2165.5 1532.2 L2167.5 1532.8 L2169.4 1533.5" stroke="#9C8B80" stroke-dasharray="7.6 16.5"/>
</g>
<g stroke="#000" stroke-width="6" fill="none">
<rect x="287" y="256" width="1884" height="1296"/>
<line x1="371.8" y1="1552" x2="371.8" y2="1527"/>
<line x1="596.7" y1="1552" x2="596.7" y2="1527"/>
<line x1="821.6" y1="1552" x2="821.6" y2="1527"/>
<line x1="1046.4" y1="1552" x2="1046.4" y2="1527"/>
<line x1="1271.3" y1="1552" x2="1271.3" y2="1527"/>
<line x1="1496.2" y1="1552" x2="1496.2" y2="1527"/>
<line x1="1721.1" y1="1552" x2="1721.1" y2="1527"/>
<line x1="1946.0" y1="1552" x2="1946.0" y2="1527"/>
<line x1="2170.8" y1="1552" x2="2170.8" y2="1527"/>
<line x1="484.2" y1="1552" x2="484.2" y2="1539"/>
<line x1="709.1" y1="1552" x2="709.1" y2="1539"/>
<line x1="934.0" y1="1552" x2="934.0" y2="1539"/>
<line x1="1158.9" y1="1552" x2="1158.9" y2="1539"/>
<line x1="1383.8" y1="1552" x2="1383.8" y2="1539"/>
<line x1="1608.6" y1="1552" x2="1608.6" y2="1539"/>
<line x1="1833.5" y1="1552" x2="1833.5" y2="1539"/>
<line x1="2058.4" y1="1552" x2="2058.4" y2="1539"/>
<line x1="2128.0" y1="256" x2="2128.0" y2="281"/>
<line x1="1884.6" y1="256" x2="1884.6" y2="281"/>
<line x1="1662.4" y1="256" x2="1662.4" y2="281"/>
<line x1="1458.7" y1="256" x2="1458.7" y2="281"/>
<line x1="1271.3" y1="256" x2="1271.3" y2="281"/>
<line x1="1098.3" y1="256" x2="1098.3" y2="281"/>
<line x1="938.2" y1="256" x2="938.2" y2="281"/>
<line x1="789.4" y1="256" x2="789.4" y2="281"/>
<line x1="651.0" y1="256" x2="651.0" y2="281"/>
<line x1="521.7" y1="256" x2="521.7" y2="281"/>
<line x1="400.8" y1="256" x2="400.8" y2="281"/>
<line x1="2003.5" y1="256" x2="2003.5" y2="269"/>
<line x1="1771.1" y1="256" x2="1771.1" y2="269"/>
<line x1="1558.4" y1="256" x2="1558.4" y2="269"/>
<line x1="1363.1" y1="256" x2="1363.1" y2="269"/>
<line x1="1183.1" y1="256" x2="1183.1" y2="269"/>
<line x1="1016.7" y1="256" x2="1016.7" y2="269"/>
<line x1="862.4" y1="256" x2="862.4" y2="269"/>
<line x1="719.0" y1="256" x2="719.0" y2="269"/>
<line x1="585.2" y1="256" x2="585.2" y2="269"/>
<line x1="460.3" y1="256" x2="460.3" y2="269"/>
<line x1="343.2" y1="256" x2="343.2" y2="269"/>
<line x1="287" y1="1552.0" x2="312" y2="1552.0"/>
<line x1="2171" y1="1552.0" x2="2146" y2="1552.0"/>
<line x1="287" y1="1390.0" x2="312" y2="1390.0"/>
<line x1="2171" y1="1390.0" x2="2146" y2="1390.0"/>
<line x1="287" y1="1228.0" x2="312" y2="1228.0"/>
<line x1="2171" y1="1228.0" x2="2146" y2="1228.0"/>
<line x1="287" y1="1066.0" x2="312" y2="1066.0"/>
<line x1="2171" y1="1066.0" x2="2146" y2="1066.0"/>
<line x1="287" y1="904.0" x2="312" y2="904.0"/>
<line x1="2171" y1="904.0" x2="2146" y2="904.0"/>
<line x1="287" y1="742.0" x2="312" y2="742.0"/>
<line x1="2171" y1="742.0" x2="2146" y2="742.0"/>
<line x1="287" y1="580.0" x2="312" y2="580.0"/>
<line x1="2171" y1="580.0" x2="2146" y2="580.0"/>
<line x1="287" y1="418.0" x2="312" y2="418.0"/>
<line x1="2171" y1="418.0" x2="2146" y2="418.0"/>
<line x1="287" y1="256.0" x2="312" y2="256.0"/>
<line x1="2171" y1="256.0" x2="2146" y2="256.0"/>
<line x1="287" y1="1471.0" x2="300" y2="1471.0"/>
<line x1="2171" y1="1471.0" x2="2158" y2="1471.0"/>
<line x1="287" y1="1309.0" x2="300" y2="1309.0"/>
<line x1="2171" y1="1309.0" x2="2158" y2="1309.0"/>
<line x1="287" y1="1147.0" x2="300" y2="1147.0"/>
<line x1="2171" y1="1147.0" x2="2158" y2="1147.0"/>
<line x1="287" y1="985.0" x2="300" y2="985.0"/>
<line x1="2171" y1="985.0" x2="2158" y2="985.0"/>
<line x1="287" y1="823.0" x2="300" y2="823.0"/>
<line x1="2171" y1="823.0" x2="2158" y2="823.0"/>
<line x1="287" y1="661.0" x2="300" y2="661.0"/>
<line x1="2171" y1="661.0" x2="2158" y2="661.0"/>
<line x1="287" y1="499.0" x2="300" y2="499.0"/>
<line x1="2171" y1="499.0" x2="2158" y2="499.0"/>
<line x1="287" y1="337.0" x2="300" y2="337.0"/>
<line x1="2171" y1="337.0" x2="2158" y2="337.0"/>
</g>
<text class="b" font-size="68" text-anchor="middle" transform="translate(373.0,1634.0) scale(1,1.052)">3200</text>
<text class="b" font-size="68" text-anchor="middle" transform="translate(598.3,1634.0) scale(1,1.052)">3400</text>
<text class="b" font-size="68" text-anchor="middle" transform="translate(823.6,1634.0) scale(1,1.052)">3600</text>
<text class="b" font-size="68" text-anchor="middle" transform="translate(1048.9,1634.0) scale(1,1.052)">3800</text>
<text class="b" font-size="68" text-anchor="middle" transform="translate(1274.2,1634.0) scale(1,1.052)">4000</text>
<text class="b" font-size="68" text-anchor="middle" transform="translate(1499.5,1634.0) scale(1,1.052)">4200</text>
<text class="b" font-size="68" text-anchor="middle" transform="translate(1724.8,1634.0) scale(1,1.052)">4400</text>
<text class="b" font-size="68" text-anchor="middle" transform="translate(1950.1,1634.0) scale(1,1.052)">4600</text>
<text class="b" font-size="68" text-anchor="middle" transform="translate(2175.4,1634.0) scale(1,1.052)">4800</text>
<text class="b" font-size="68" text-anchor="middle" transform="translate(2133.0,215.4) scale(1,1.052)">2.1</text>
<text class="b" font-size="68" text-anchor="middle" transform="translate(1889.1,215.4) scale(1,1.052)">2.2</text>
<text class="b" font-size="68" text-anchor="middle" transform="translate(1666.4,215.4) scale(1,1.052)">2.3</text>
<text class="b" font-size="68" text-anchor="middle" transform="translate(1462.3,215.4) scale(1,1.052)">2.4</text>
<text class="b" font-size="68" text-anchor="middle" transform="translate(1274.5,215.4) scale(1,1.052)">2.5</text>
<text class="b" font-size="68" text-anchor="middle" transform="translate(1101.1,215.4) scale(1,1.052)">2.6</text>
<text class="b" font-size="68" text-anchor="middle" transform="translate(940.6,215.4) scale(1,1.052)">2.7</text>
<text class="b" font-size="68" text-anchor="middle" transform="translate(791.5,215.4) scale(1,1.052)">2.8</text>
<text class="b" font-size="68" text-anchor="middle" transform="translate(652.8,215.4) scale(1,1.052)">2.9</text>
<text class="b" font-size="68" text-anchor="middle" transform="translate(523.2,215.4) scale(1,1.052)">3</text>
<text class="b" font-size="68" text-anchor="middle" transform="translate(402.1,215.4) scale(1,1.052)">3.1</text>
<text class="b" font-size="68" text-anchor="middle" transform="translate(288.5,215.4) scale(1,1.052)">3.2</text>
<text class="b" font-size="68" text-anchor="end" transform="translate(260.9,1575.7) scale(1,1.052)">0.0</text>
<text class="b" font-size="68" text-anchor="end" transform="translate(260.9,1413.3) scale(1,1.052)">0.1</text>
<text class="b" font-size="68" text-anchor="end" transform="translate(260.9,1251.0) scale(1,1.052)">0.2</text>
<text class="b" font-size="68" text-anchor="end" transform="translate(260.9,1088.6) scale(1,1.052)">0.3</text>
<text class="b" font-size="68" text-anchor="end" transform="translate(260.9,926.2) scale(1,1.052)">0.4</text>
<text class="b" font-size="68" text-anchor="end" transform="translate(260.9,763.8) scale(1,1.052)">0.5</text>
<text class="b" font-size="68" text-anchor="end" transform="translate(260.9,601.5) scale(1,1.052)">0.6</text>
<text class="b" font-size="68" text-anchor="end" transform="translate(260.9,439.1) scale(1,1.052)">0.7</text>
<text class="b" font-size="68" text-anchor="end" transform="translate(260.9,276.7) scale(1,1.052)">0.8</text>
<text class="b" font-size="79.2" text-anchor="middle" transform="translate(1233.2,109.0) scale(1,1.02)">Wavelength, µm</text>
<text class="b" font-size="79.6" transform="translate(875.8,1729.8) scale(1,1.02)">Wavenumber, cm</text>
<text class="b" font-size="55.7" transform="translate(1526,1692.7) scale(1,1.02)">−1</text>
<text class="b" font-size="81.4" text-anchor="middle" transform="translate(107.2,866.5) rotate(-90) scale(1,1.05)">SE signal, arb. units</text>
<rect x="416" y="382" width="356" height="97.5" fill="#fff"/>
<text class="b" font-size="85.6" text-anchor="start" transform="translate(418.2,459.9) scale(1,1.05)">T = 300K</text>
<rect x="1411" y="454.5" width="554.6" height="348" fill="#fff" stroke="#000" stroke-width="4.6"/>
<text class="r" font-size="55.7" transform="translate(1418,512.3) scale(1,1.02)">2.5mm sample</text>
<line x1="1420" y1="561.2" x2="1542.6" y2="561.2" stroke="#FFC010" stroke-width="6" stroke-linecap="round"/>
<text class="r" font-size="55.7" transform="translate(1557,580.4) scale(1,1.02)">high</text>
<line x1="1420" y1="628.7" x2="1542.6" y2="628.7" stroke="#3CC473" stroke-width="6" stroke-linecap="round"/>
<text class="r" font-size="55.7" transform="translate(1557,647.4) scale(1,1.02)">medium</text>
<line x1="1420" y1="696.1" x2="1542.6" y2="696.1" stroke="#CC6600" stroke-width="6" stroke-linecap="round"/>
<text class="r" font-size="55.7" transform="translate(1557,714.4) scale(1,1.02)">low</text>
<line x1="1420" y1="763.6" x2="1424.5" y2="763.6" stroke="#9C8B80" stroke-width="6" stroke-linecap="round"/>
<line x1="1443.7" y1="763.6" x2="1542.6" y2="763.6" stroke="#9C8B80" stroke-width="6" stroke-linecap="round" stroke-dasharray="8.3 16.1"/>
<text class="r" font-size="55.7" transform="translate(1557,781.4) scale(1,1.02)">spontaneous PL</text>
</svg></body></html>
